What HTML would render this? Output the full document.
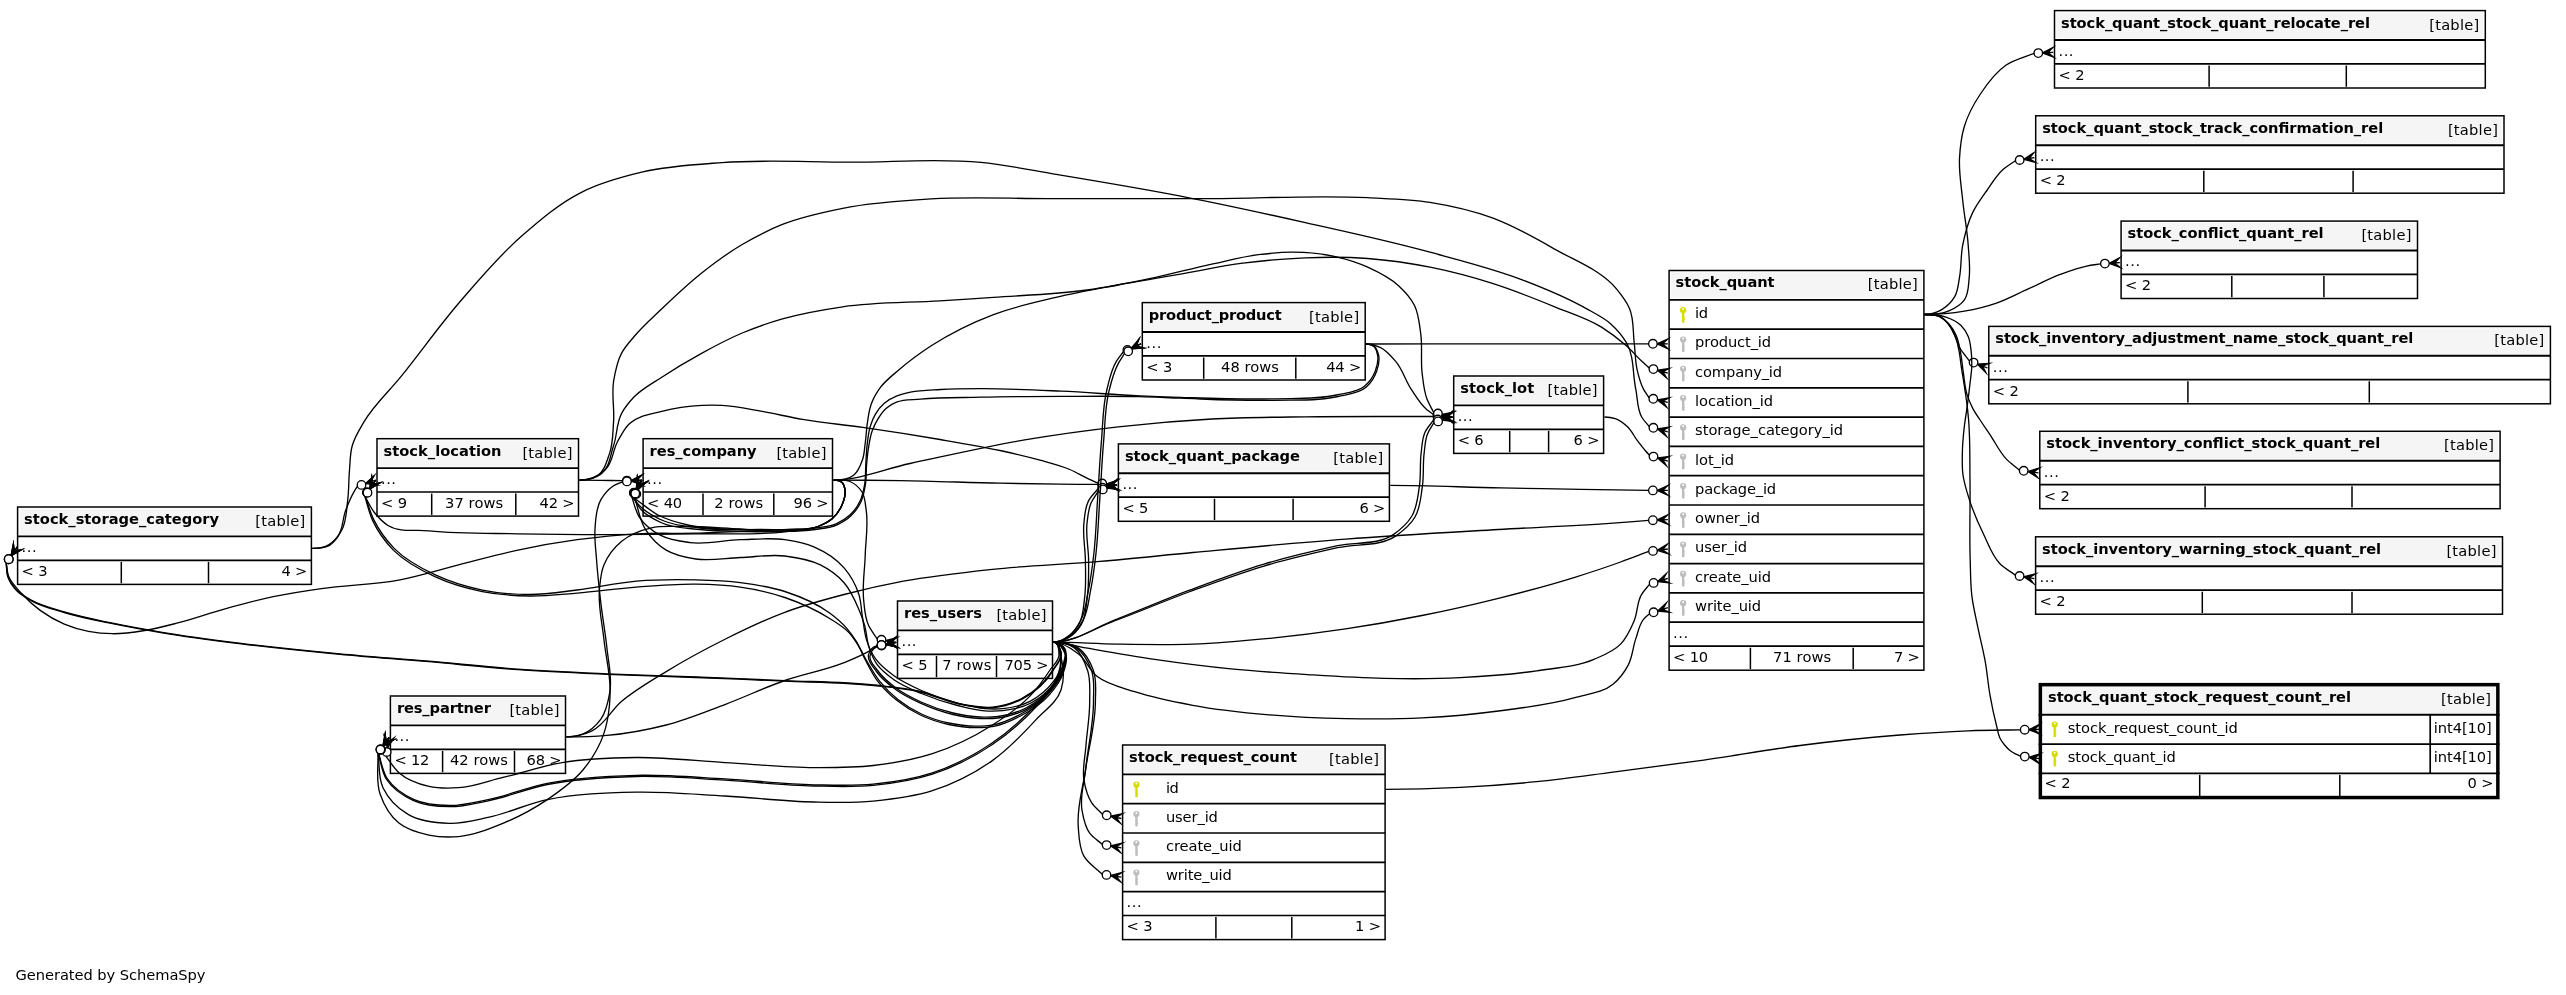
<!DOCTYPE html>
<html><head><meta charset="utf-8"><title>stock_quant_stock_request_count_rel</title>
<style>
html,body{margin:0;padding:0;background:#fff;}
svg{display:block;transform:translateZ(0);will-change:transform;font-family:"DejaVu Sans","Liberation Sans",sans-serif;font-size:14.67px;fill:#000;}
</style></head><body>
<svg width="2566" height="995" viewBox="0 0 2566 995">
<rect width="2566" height="995" fill="#fff"/>
<g>
<g>
<rect x="17.6" y="507.0" width="293.8" height="77.4" fill="#fff"/>
<rect x="19.5" y="508.9" width="290.0" height="25.8" fill="#f5f5f5"/>
<rect x="17.6" y="507.0" width="293.8" height="77.4" fill="none" stroke="#000" stroke-width="1.5"/>
<line x1="17.6" x2="311.4" y1="536.4" y2="536.4" stroke="#000" stroke-width="1.9"/>
<line x1="17.6" x2="311.4" y1="560.3" y2="560.3" stroke="#000" stroke-width="1.7"/>
<line x1="121.3" x2="121.3" y1="561.9" y2="583.2" stroke="#000" stroke-width="1.5"/>
<line x1="208.5" x2="208.5" y1="561.9" y2="583.2" stroke="#000" stroke-width="1.5"/>
<text x="24.1" y="523.9" font-weight="bold" textLength="195" lengthAdjust="spacing">stock_storage_category</text>
<text x="305.3" y="525.9" text-anchor="end" textLength="50" lengthAdjust="spacing">[table]</text>
<text x="21.6" y="552.2" textLength="15" lengthAdjust="spacing">...</text>
<text x="21.6" y="576.2" textLength="26" lengthAdjust="spacing">&lt; 3</text>
<text x="307.4" y="576.2" text-anchor="end" textLength="26" lengthAdjust="spacing">4 &gt;</text>
</g>
<g>
<rect x="377.0" y="438.7" width="201.5" height="77.4" fill="#fff"/>
<rect x="378.9" y="440.6" width="197.7" height="25.8" fill="#f5f5f5"/>
<rect x="377.0" y="438.7" width="201.5" height="77.4" fill="none" stroke="#000" stroke-width="1.5"/>
<line x1="377.0" x2="578.5" y1="468.1" y2="468.1" stroke="#000" stroke-width="1.9"/>
<line x1="377.0" x2="578.5" y1="492.0" y2="492.0" stroke="#000" stroke-width="1.7"/>
<line x1="431.7" x2="431.7" y1="493.6" y2="514.9" stroke="#000" stroke-width="1.5"/>
<line x1="515.8" x2="515.8" y1="493.6" y2="514.9" stroke="#000" stroke-width="1.5"/>
<text x="383.5" y="455.6" font-weight="bold" textLength="118" lengthAdjust="spacing">stock_location</text>
<text x="572.4" y="457.6" text-anchor="end" textLength="50" lengthAdjust="spacing">[table]</text>
<text x="381.0" y="483.9" textLength="15" lengthAdjust="spacing">...</text>
<text x="381.0" y="507.9" textLength="26" lengthAdjust="spacing">&lt; 9</text>
<text x="474.1" y="507.9" text-anchor="middle" textLength="58" lengthAdjust="spacing">37 rows</text>
<text x="574.5" y="507.9" text-anchor="end" textLength="35" lengthAdjust="spacing">42 &gt;</text>
</g>
<g>
<rect x="643.1" y="438.7" width="189.4" height="77.4" fill="#fff"/>
<rect x="645.0" y="440.6" width="185.6" height="25.8" fill="#f5f5f5"/>
<rect x="643.1" y="438.7" width="189.4" height="77.4" fill="none" stroke="#000" stroke-width="1.5"/>
<line x1="643.1" x2="832.5" y1="468.1" y2="468.1" stroke="#000" stroke-width="1.9"/>
<line x1="643.1" x2="832.5" y1="492.0" y2="492.0" stroke="#000" stroke-width="1.7"/>
<line x1="703.0" x2="703.0" y1="493.6" y2="514.9" stroke="#000" stroke-width="1.5"/>
<line x1="773.8" x2="773.8" y1="493.6" y2="514.9" stroke="#000" stroke-width="1.5"/>
<text x="649.6" y="455.6" font-weight="bold" textLength="107" lengthAdjust="spacing">res_company</text>
<text x="826.4" y="457.6" text-anchor="end" textLength="50" lengthAdjust="spacing">[table]</text>
<text x="647.1" y="483.9" textLength="15" lengthAdjust="spacing">...</text>
<text x="647.1" y="507.9" textLength="35" lengthAdjust="spacing">&lt; 40</text>
<text x="738.7" y="507.9" text-anchor="middle" textLength="49" lengthAdjust="spacing">2 rows</text>
<text x="828.5" y="507.9" text-anchor="end" textLength="35" lengthAdjust="spacing">96 &gt;</text>
</g>
<g>
<rect x="390.4" y="696.0" width="175.1" height="77.4" fill="#fff"/>
<rect x="392.3" y="697.9" width="171.3" height="25.8" fill="#f5f5f5"/>
<rect x="390.4" y="696.0" width="175.1" height="77.4" fill="none" stroke="#000" stroke-width="1.5"/>
<line x1="390.4" x2="565.5" y1="725.4" y2="725.4" stroke="#000" stroke-width="1.9"/>
<line x1="390.4" x2="565.5" y1="749.3" y2="749.3" stroke="#000" stroke-width="1.7"/>
<line x1="442.6" x2="442.6" y1="750.9" y2="772.2" stroke="#000" stroke-width="1.5"/>
<line x1="514.5" x2="514.5" y1="750.9" y2="772.2" stroke="#000" stroke-width="1.5"/>
<text x="396.9" y="712.9" font-weight="bold" textLength="94" lengthAdjust="spacing">res_partner</text>
<text x="559.4" y="714.9" text-anchor="end" textLength="50" lengthAdjust="spacing">[table]</text>
<text x="394.4" y="741.2" textLength="15" lengthAdjust="spacing">...</text>
<text x="394.4" y="765.2" textLength="35" lengthAdjust="spacing">&lt; 12</text>
<text x="478.9" y="765.2" text-anchor="middle" textLength="58" lengthAdjust="spacing">42 rows</text>
<text x="561.5" y="765.2" text-anchor="end" textLength="35" lengthAdjust="spacing">68 &gt;</text>
</g>
<g>
<rect x="897.5" y="601.0" width="155.0" height="77.4" fill="#fff"/>
<rect x="899.4" y="602.9" width="151.2" height="25.8" fill="#f5f5f5"/>
<rect x="897.5" y="601.0" width="155.0" height="77.4" fill="none" stroke="#000" stroke-width="1.5"/>
<line x1="897.5" x2="1052.5" y1="630.4" y2="630.4" stroke="#000" stroke-width="1.9"/>
<line x1="897.5" x2="1052.5" y1="654.3" y2="654.3" stroke="#000" stroke-width="1.7"/>
<line x1="936.5" x2="936.5" y1="655.9" y2="677.2" stroke="#000" stroke-width="1.5"/>
<line x1="996.5" x2="996.5" y1="655.9" y2="677.2" stroke="#000" stroke-width="1.5"/>
<text x="904.0" y="617.9" font-weight="bold" textLength="78" lengthAdjust="spacing">res_users</text>
<text x="1046.4" y="619.9" text-anchor="end" textLength="50" lengthAdjust="spacing">[table]</text>
<text x="901.5" y="646.2" textLength="15" lengthAdjust="spacing">...</text>
<text x="901.5" y="670.2" textLength="26" lengthAdjust="spacing">&lt; 5</text>
<text x="966.8" y="670.2" text-anchor="middle" textLength="49" lengthAdjust="spacing">7 rows</text>
<text x="1048.5" y="670.2" text-anchor="end" textLength="44" lengthAdjust="spacing">705 &gt;</text>
</g>
<g>
<rect x="1142.3" y="302.6" width="222.9" height="77.4" fill="#fff"/>
<rect x="1144.2" y="304.5" width="219.1" height="25.8" fill="#f5f5f5"/>
<rect x="1142.3" y="302.6" width="222.9" height="77.4" fill="none" stroke="#000" stroke-width="1.5"/>
<line x1="1142.3" x2="1365.2" y1="332.0" y2="332.0" stroke="#000" stroke-width="1.9"/>
<line x1="1142.3" x2="1365.2" y1="355.9" y2="355.9" stroke="#000" stroke-width="1.7"/>
<line x1="1203.7" x2="1203.7" y1="357.5" y2="378.8" stroke="#000" stroke-width="1.5"/>
<line x1="1295.8" x2="1295.8" y1="357.5" y2="378.8" stroke="#000" stroke-width="1.5"/>
<text x="1148.8" y="319.5" font-weight="bold" textLength="133" lengthAdjust="spacing">product_product</text>
<text x="1359.1" y="321.5" text-anchor="end" textLength="50" lengthAdjust="spacing">[table]</text>
<text x="1146.3" y="347.8" textLength="15" lengthAdjust="spacing">...</text>
<text x="1146.3" y="371.8" textLength="26" lengthAdjust="spacing">&lt; 3</text>
<text x="1250.0" y="371.8" text-anchor="middle" textLength="58" lengthAdjust="spacing">48 rows</text>
<text x="1361.2" y="371.8" text-anchor="end" textLength="35" lengthAdjust="spacing">44 &gt;</text>
</g>
<g>
<rect x="1118.4" y="443.9" width="271.0" height="77.4" fill="#fff"/>
<rect x="1120.3" y="445.8" width="267.2" height="25.8" fill="#f5f5f5"/>
<rect x="1118.4" y="443.9" width="271.0" height="77.4" fill="none" stroke="#000" stroke-width="1.5"/>
<line x1="1118.4" x2="1389.4" y1="473.3" y2="473.3" stroke="#000" stroke-width="1.9"/>
<line x1="1118.4" x2="1389.4" y1="497.2" y2="497.2" stroke="#000" stroke-width="1.7"/>
<line x1="1214.5" x2="1214.5" y1="498.8" y2="520.1" stroke="#000" stroke-width="1.5"/>
<line x1="1293.1" x2="1293.1" y1="498.8" y2="520.1" stroke="#000" stroke-width="1.5"/>
<text x="1124.9" y="460.8" font-weight="bold" textLength="175" lengthAdjust="spacing">stock_quant_package</text>
<text x="1383.3" y="462.8" text-anchor="end" textLength="50" lengthAdjust="spacing">[table]</text>
<text x="1122.4" y="489.1" textLength="15" lengthAdjust="spacing">...</text>
<text x="1122.4" y="513.1" textLength="26" lengthAdjust="spacing">&lt; 5</text>
<text x="1385.4" y="513.1" text-anchor="end" textLength="26" lengthAdjust="spacing">6 &gt;</text>
</g>
<g>
<rect x="1453.7" y="376.0" width="149.9" height="77.4" fill="#fff"/>
<rect x="1455.6" y="377.9" width="146.1" height="25.8" fill="#f5f5f5"/>
<rect x="1453.7" y="376.0" width="149.9" height="77.4" fill="none" stroke="#000" stroke-width="1.5"/>
<line x1="1453.7" x2="1603.6" y1="405.4" y2="405.4" stroke="#000" stroke-width="1.9"/>
<line x1="1453.7" x2="1603.6" y1="429.3" y2="429.3" stroke="#000" stroke-width="1.7"/>
<line x1="1509.7" x2="1509.7" y1="430.9" y2="452.2" stroke="#000" stroke-width="1.5"/>
<line x1="1548.6" x2="1548.6" y1="430.9" y2="452.2" stroke="#000" stroke-width="1.5"/>
<text x="1460.2" y="392.9" font-weight="bold" textLength="74" lengthAdjust="spacing">stock_lot</text>
<text x="1597.5" y="394.9" text-anchor="end" textLength="50" lengthAdjust="spacing">[table]</text>
<text x="1457.7" y="421.2" textLength="15" lengthAdjust="spacing">...</text>
<text x="1457.7" y="445.2" textLength="26" lengthAdjust="spacing">&lt; 6</text>
<text x="1599.6" y="445.2" text-anchor="end" textLength="26" lengthAdjust="spacing">6 &gt;</text>
</g>
<g>
<rect x="1122.6" y="745.0" width="262.5" height="194.6" fill="#fff"/>
<rect x="1124.5" y="746.9" width="258.7" height="25.8" fill="#f5f5f5"/>
<rect x="1122.6" y="745.0" width="262.5" height="194.6" fill="none" stroke="#000" stroke-width="1.5"/>
<line x1="1122.6" x2="1385.1" y1="774.4" y2="774.4" stroke="#000" stroke-width="1.9"/>
<line x1="1122.6" x2="1385.1" y1="803.7" y2="803.7" stroke="#000" stroke-width="1.7"/>
<line x1="1122.6" x2="1385.1" y1="833.0" y2="833.0" stroke="#000" stroke-width="1.7"/>
<line x1="1122.6" x2="1385.1" y1="862.3" y2="862.3" stroke="#000" stroke-width="1.7"/>
<line x1="1122.6" x2="1385.1" y1="891.6" y2="891.6" stroke="#000" stroke-width="1.7"/>
<line x1="1122.6" x2="1385.1" y1="915.5" y2="915.5" stroke="#000" stroke-width="1.7"/>
<line x1="1215.9" x2="1215.9" y1="917.1" y2="938.4" stroke="#000" stroke-width="1.5"/>
<line x1="1291.8" x2="1291.8" y1="917.1" y2="938.4" stroke="#000" stroke-width="1.5"/>
<text x="1129.1" y="761.9" font-weight="bold" textLength="168" lengthAdjust="spacing">stock_request_count</text>
<text x="1379.0" y="763.9" text-anchor="end" textLength="50" lengthAdjust="spacing">[table]</text>
<g fill="#d6dc00"><circle cx="1136.4" cy="784.7" r="3.1"/><rect x="1135.25" y="784.7" width="2.3" height="12.6" rx="0.8"/><rect x="1136.40" y="791.0" width="1.6" height="1.2"/><rect x="1136.40" y="793.3" width="1.7" height="1.2"/><rect x="1136.40" y="795.5" width="1.5" height="1.2"/><circle cx="1136.4" cy="783.6" r="1" fill="#fff"/></g>
<text x="1165.9" y="792.5" textLength="13" lengthAdjust="spacing">id</text>
<g fill="#bdbdbd"><circle cx="1136.4" cy="814.0" r="3.1"/><rect x="1135.25" y="814.0" width="2.3" height="12.6" rx="0.8"/><rect x="1136.40" y="820.3" width="1.6" height="1.2"/><rect x="1136.40" y="822.6" width="1.7" height="1.2"/><rect x="1136.40" y="824.8" width="1.5" height="1.2"/><circle cx="1136.4" cy="812.9" r="1" fill="#fff"/></g>
<text x="1165.9" y="821.8" textLength="52" lengthAdjust="spacing">user_id</text>
<g fill="#bdbdbd"><circle cx="1136.4" cy="843.3" r="3.1"/><rect x="1135.25" y="843.3" width="2.3" height="12.6" rx="0.8"/><rect x="1136.40" y="849.6" width="1.6" height="1.2"/><rect x="1136.40" y="851.9" width="1.7" height="1.2"/><rect x="1136.40" y="854.1" width="1.5" height="1.2"/><circle cx="1136.4" cy="842.2" r="1" fill="#fff"/></g>
<text x="1165.9" y="851.1" textLength="76" lengthAdjust="spacing">create_uid</text>
<g fill="#bdbdbd"><circle cx="1136.4" cy="872.6" r="3.1"/><rect x="1135.25" y="872.6" width="2.3" height="12.6" rx="0.8"/><rect x="1136.40" y="878.9" width="1.6" height="1.2"/><rect x="1136.40" y="881.2" width="1.7" height="1.2"/><rect x="1136.40" y="883.4" width="1.5" height="1.2"/><circle cx="1136.4" cy="871.5" r="1" fill="#fff"/></g>
<text x="1165.9" y="880.4" textLength="66" lengthAdjust="spacing">write_uid</text>
<text x="1126.6" y="907.4" textLength="15" lengthAdjust="spacing">...</text>
<text x="1126.6" y="931.4" textLength="26" lengthAdjust="spacing">&lt; 3</text>
<text x="1381.1" y="931.4" text-anchor="end" textLength="26" lengthAdjust="spacing">1 &gt;</text>
</g>
<g>
<rect x="1669.1" y="270.5" width="254.8" height="399.7" fill="#fff"/>
<rect x="1671.0" y="272.4" width="251.0" height="25.8" fill="#f5f5f5"/>
<rect x="1669.1" y="270.5" width="254.8" height="399.7" fill="none" stroke="#000" stroke-width="1.5"/>
<line x1="1669.1" x2="1923.9" y1="299.9" y2="299.9" stroke="#000" stroke-width="1.9"/>
<line x1="1669.1" x2="1923.9" y1="329.2" y2="329.2" stroke="#000" stroke-width="1.7"/>
<line x1="1669.1" x2="1923.9" y1="358.5" y2="358.5" stroke="#000" stroke-width="1.7"/>
<line x1="1669.1" x2="1923.9" y1="387.8" y2="387.8" stroke="#000" stroke-width="1.7"/>
<line x1="1669.1" x2="1923.9" y1="417.1" y2="417.1" stroke="#000" stroke-width="1.7"/>
<line x1="1669.1" x2="1923.9" y1="446.4" y2="446.4" stroke="#000" stroke-width="1.7"/>
<line x1="1669.1" x2="1923.9" y1="475.7" y2="475.7" stroke="#000" stroke-width="1.7"/>
<line x1="1669.1" x2="1923.9" y1="505.0" y2="505.0" stroke="#000" stroke-width="1.7"/>
<line x1="1669.1" x2="1923.9" y1="534.3" y2="534.3" stroke="#000" stroke-width="1.7"/>
<line x1="1669.1" x2="1923.9" y1="563.6" y2="563.6" stroke="#000" stroke-width="1.7"/>
<line x1="1669.1" x2="1923.9" y1="592.9" y2="592.9" stroke="#000" stroke-width="1.7"/>
<line x1="1669.1" x2="1923.9" y1="622.2" y2="622.2" stroke="#000" stroke-width="1.7"/>
<line x1="1669.1" x2="1923.9" y1="646.1" y2="646.1" stroke="#000" stroke-width="1.7"/>
<line x1="1750.4" x2="1750.4" y1="647.7" y2="669.0" stroke="#000" stroke-width="1.5"/>
<line x1="1853.2" x2="1853.2" y1="647.7" y2="669.0" stroke="#000" stroke-width="1.5"/>
<text x="1675.6" y="287.4" font-weight="bold" textLength="99" lengthAdjust="spacing">stock_quant</text>
<text x="1917.8" y="289.4" text-anchor="end" textLength="50" lengthAdjust="spacing">[table]</text>
<g fill="#d6dc00"><circle cx="1683.1" cy="310.2" r="3.1"/><rect x="1681.95" y="310.2" width="2.3" height="12.6" rx="0.8"/><rect x="1683.10" y="316.5" width="1.6" height="1.2"/><rect x="1683.10" y="318.8" width="1.7" height="1.2"/><rect x="1683.10" y="321.0" width="1.5" height="1.2"/><circle cx="1683.1" cy="309.1" r="1" fill="#fff"/></g>
<text x="1695.1" y="318.0" textLength="13" lengthAdjust="spacing">id</text>
<g fill="#bdbdbd"><circle cx="1683.1" cy="339.5" r="3.1"/><rect x="1681.95" y="339.5" width="2.3" height="12.6" rx="0.8"/><rect x="1683.10" y="345.8" width="1.6" height="1.2"/><rect x="1683.10" y="348.1" width="1.7" height="1.2"/><rect x="1683.10" y="350.3" width="1.5" height="1.2"/><circle cx="1683.1" cy="338.4" r="1" fill="#fff"/></g>
<text x="1695.1" y="347.3" textLength="76" lengthAdjust="spacing">product_id</text>
<g fill="#bdbdbd"><circle cx="1683.1" cy="368.8" r="3.1"/><rect x="1681.95" y="368.8" width="2.3" height="12.6" rx="0.8"/><rect x="1683.10" y="375.1" width="1.6" height="1.2"/><rect x="1683.10" y="377.4" width="1.7" height="1.2"/><rect x="1683.10" y="379.6" width="1.5" height="1.2"/><circle cx="1683.1" cy="367.7" r="1" fill="#fff"/></g>
<text x="1695.1" y="376.6" textLength="87" lengthAdjust="spacing">company_id</text>
<g fill="#bdbdbd"><circle cx="1683.1" cy="398.1" r="3.1"/><rect x="1681.95" y="398.1" width="2.3" height="12.6" rx="0.8"/><rect x="1683.10" y="404.4" width="1.6" height="1.2"/><rect x="1683.10" y="406.7" width="1.7" height="1.2"/><rect x="1683.10" y="408.9" width="1.5" height="1.2"/><circle cx="1683.1" cy="397.0" r="1" fill="#fff"/></g>
<text x="1695.1" y="405.9" textLength="78" lengthAdjust="spacing">location_id</text>
<g fill="#bdbdbd"><circle cx="1683.1" cy="427.4" r="3.1"/><rect x="1681.95" y="427.4" width="2.3" height="12.6" rx="0.8"/><rect x="1683.10" y="433.7" width="1.6" height="1.2"/><rect x="1683.10" y="436.0" width="1.7" height="1.2"/><rect x="1683.10" y="438.2" width="1.5" height="1.2"/><circle cx="1683.1" cy="426.3" r="1" fill="#fff"/></g>
<text x="1695.1" y="435.2" textLength="148" lengthAdjust="spacing">storage_category_id</text>
<g fill="#bdbdbd"><circle cx="1683.1" cy="456.7" r="3.1"/><rect x="1681.95" y="456.7" width="2.3" height="12.6" rx="0.8"/><rect x="1683.10" y="463.0" width="1.6" height="1.2"/><rect x="1683.10" y="465.3" width="1.7" height="1.2"/><rect x="1683.10" y="467.5" width="1.5" height="1.2"/><circle cx="1683.1" cy="455.6" r="1" fill="#fff"/></g>
<text x="1695.1" y="464.5" textLength="39" lengthAdjust="spacing">lot_id</text>
<g fill="#bdbdbd"><circle cx="1683.1" cy="486.0" r="3.1"/><rect x="1681.95" y="486.0" width="2.3" height="12.6" rx="0.8"/><rect x="1683.10" y="492.3" width="1.6" height="1.2"/><rect x="1683.10" y="494.6" width="1.7" height="1.2"/><rect x="1683.10" y="496.8" width="1.5" height="1.2"/><circle cx="1683.1" cy="484.9" r="1" fill="#fff"/></g>
<text x="1695.1" y="493.8" textLength="81" lengthAdjust="spacing">package_id</text>
<g fill="#bdbdbd"><circle cx="1683.1" cy="515.3" r="3.1"/><rect x="1681.95" y="515.3" width="2.3" height="12.6" rx="0.8"/><rect x="1683.10" y="521.6" width="1.6" height="1.2"/><rect x="1683.10" y="523.9" width="1.7" height="1.2"/><rect x="1683.10" y="526.1" width="1.5" height="1.2"/><circle cx="1683.1" cy="514.2" r="1" fill="#fff"/></g>
<text x="1695.1" y="523.1" textLength="65" lengthAdjust="spacing">owner_id</text>
<g fill="#bdbdbd"><circle cx="1683.1" cy="544.6" r="3.1"/><rect x="1681.95" y="544.6" width="2.3" height="12.6" rx="0.8"/><rect x="1683.10" y="550.9" width="1.6" height="1.2"/><rect x="1683.10" y="553.2" width="1.7" height="1.2"/><rect x="1683.10" y="555.4" width="1.5" height="1.2"/><circle cx="1683.1" cy="543.5" r="1" fill="#fff"/></g>
<text x="1695.1" y="552.4" textLength="52" lengthAdjust="spacing">user_id</text>
<g fill="#bdbdbd"><circle cx="1683.1" cy="573.9" r="3.1"/><rect x="1681.95" y="573.9" width="2.3" height="12.6" rx="0.8"/><rect x="1683.10" y="580.2" width="1.6" height="1.2"/><rect x="1683.10" y="582.5" width="1.7" height="1.2"/><rect x="1683.10" y="584.7" width="1.5" height="1.2"/><circle cx="1683.1" cy="572.8" r="1" fill="#fff"/></g>
<text x="1695.1" y="581.7" textLength="76" lengthAdjust="spacing">create_uid</text>
<g fill="#bdbdbd"><circle cx="1683.1" cy="603.2" r="3.1"/><rect x="1681.95" y="603.2" width="2.3" height="12.6" rx="0.8"/><rect x="1683.10" y="609.5" width="1.6" height="1.2"/><rect x="1683.10" y="611.8" width="1.7" height="1.2"/><rect x="1683.10" y="614.0" width="1.5" height="1.2"/><circle cx="1683.1" cy="602.1" r="1" fill="#fff"/></g>
<text x="1695.1" y="611.0" textLength="66" lengthAdjust="spacing">write_uid</text>
<text x="1673.1" y="638.0" textLength="15" lengthAdjust="spacing">...</text>
<text x="1673.1" y="662.0" textLength="35" lengthAdjust="spacing">&lt; 10</text>
<text x="1802.1" y="662.0" text-anchor="middle" textLength="58" lengthAdjust="spacing">71 rows</text>
<text x="1919.9" y="662.0" text-anchor="end" textLength="26" lengthAdjust="spacing">7 &gt;</text>
</g>
<g>
<rect x="2054.5" y="10.6" width="430.8" height="77.4" fill="#fff"/>
<rect x="2056.4" y="12.5" width="427.0" height="25.8" fill="#f5f5f5"/>
<rect x="2054.5" y="10.6" width="430.8" height="77.4" fill="none" stroke="#000" stroke-width="1.5"/>
<line x1="2054.5" x2="2485.3" y1="40.0" y2="40.0" stroke="#000" stroke-width="1.9"/>
<line x1="2054.5" x2="2485.3" y1="63.9" y2="63.9" stroke="#000" stroke-width="1.7"/>
<line x1="2209.1" x2="2209.1" y1="65.5" y2="86.8" stroke="#000" stroke-width="1.5"/>
<line x1="2346.3" x2="2346.3" y1="65.5" y2="86.8" stroke="#000" stroke-width="1.5"/>
<text x="2061.0" y="27.5" font-weight="bold" textLength="309" lengthAdjust="spacing">stock_quant_stock_quant_relocate_rel</text>
<text x="2479.2" y="29.5" text-anchor="end" textLength="50" lengthAdjust="spacing">[table]</text>
<text x="2058.5" y="55.8" textLength="15" lengthAdjust="spacing">...</text>
<text x="2058.5" y="79.8" textLength="26" lengthAdjust="spacing">&lt; 2</text>
</g>
<g>
<rect x="2035.7" y="115.8" width="468.3" height="77.4" fill="#fff"/>
<rect x="2037.6" y="117.7" width="464.5" height="25.8" fill="#f5f5f5"/>
<rect x="2035.7" y="115.8" width="468.3" height="77.4" fill="none" stroke="#000" stroke-width="1.5"/>
<line x1="2035.7" x2="2504.0" y1="145.2" y2="145.2" stroke="#000" stroke-width="1.9"/>
<line x1="2035.7" x2="2504.0" y1="169.1" y2="169.1" stroke="#000" stroke-width="1.7"/>
<line x1="2203.8" x2="2203.8" y1="170.7" y2="192.0" stroke="#000" stroke-width="1.5"/>
<line x1="2353.1" x2="2353.1" y1="170.7" y2="192.0" stroke="#000" stroke-width="1.5"/>
<text x="2042.2" y="132.7" font-weight="bold" textLength="341" lengthAdjust="spacing">stock_quant_stock_track_confirmation_rel</text>
<text x="2497.9" y="134.7" text-anchor="end" textLength="50" lengthAdjust="spacing">[table]</text>
<text x="2039.7" y="161.0" textLength="15" lengthAdjust="spacing">...</text>
<text x="2039.7" y="185.0" textLength="26" lengthAdjust="spacing">&lt; 2</text>
</g>
<g>
<rect x="2121.1" y="221.1" width="296.4" height="77.4" fill="#fff"/>
<rect x="2123.0" y="223.0" width="292.6" height="25.8" fill="#f5f5f5"/>
<rect x="2121.1" y="221.1" width="296.4" height="77.4" fill="none" stroke="#000" stroke-width="1.5"/>
<line x1="2121.1" x2="2417.5" y1="250.5" y2="250.5" stroke="#000" stroke-width="1.9"/>
<line x1="2121.1" x2="2417.5" y1="274.4" y2="274.4" stroke="#000" stroke-width="1.7"/>
<line x1="2231.8" x2="2231.8" y1="276.0" y2="297.3" stroke="#000" stroke-width="1.5"/>
<line x1="2323.9" x2="2323.9" y1="276.0" y2="297.3" stroke="#000" stroke-width="1.5"/>
<text x="2127.6" y="238.0" font-weight="bold" textLength="196" lengthAdjust="spacing">stock_conflict_quant_rel</text>
<text x="2411.4" y="240.0" text-anchor="end" textLength="50" lengthAdjust="spacing">[table]</text>
<text x="2125.1" y="266.3" textLength="15" lengthAdjust="spacing">...</text>
<text x="2125.1" y="290.3" textLength="26" lengthAdjust="spacing">&lt; 2</text>
</g>
<g>
<rect x="1988.8" y="326.4" width="561.6" height="77.4" fill="#fff"/>
<rect x="1990.7" y="328.3" width="557.8" height="25.8" fill="#f5f5f5"/>
<rect x="1988.8" y="326.4" width="561.6" height="77.4" fill="none" stroke="#000" stroke-width="1.5"/>
<line x1="1988.8" x2="2550.4" y1="355.8" y2="355.8" stroke="#000" stroke-width="1.9"/>
<line x1="1988.8" x2="2550.4" y1="379.7" y2="379.7" stroke="#000" stroke-width="1.7"/>
<line x1="2187.9" x2="2187.9" y1="381.3" y2="402.6" stroke="#000" stroke-width="1.5"/>
<line x1="2369.3" x2="2369.3" y1="381.3" y2="402.6" stroke="#000" stroke-width="1.5"/>
<text x="1995.3" y="343.3" font-weight="bold" textLength="418" lengthAdjust="spacing">stock_inventory_adjustment_name_stock_quant_rel</text>
<text x="2544.3" y="345.3" text-anchor="end" textLength="50" lengthAdjust="spacing">[table]</text>
<text x="1992.8" y="371.6" textLength="15" lengthAdjust="spacing">...</text>
<text x="1992.8" y="395.6" textLength="26" lengthAdjust="spacing">&lt; 2</text>
</g>
<g>
<rect x="2039.8" y="431.3" width="460.3" height="77.4" fill="#fff"/>
<rect x="2041.7" y="433.2" width="456.5" height="25.8" fill="#f5f5f5"/>
<rect x="2039.8" y="431.3" width="460.3" height="77.4" fill="none" stroke="#000" stroke-width="1.5"/>
<line x1="2039.8" x2="2500.1" y1="460.7" y2="460.7" stroke="#000" stroke-width="1.9"/>
<line x1="2039.8" x2="2500.1" y1="484.6" y2="484.6" stroke="#000" stroke-width="1.7"/>
<line x1="2205.1" x2="2205.1" y1="486.2" y2="507.5" stroke="#000" stroke-width="1.5"/>
<line x1="2352.0" x2="2352.0" y1="486.2" y2="507.5" stroke="#000" stroke-width="1.5"/>
<text x="2046.3" y="448.2" font-weight="bold" textLength="334" lengthAdjust="spacing">stock_inventory_conflict_stock_quant_rel</text>
<text x="2494.0" y="450.2" text-anchor="end" textLength="50" lengthAdjust="spacing">[table]</text>
<text x="2043.8" y="476.5" textLength="15" lengthAdjust="spacing">...</text>
<text x="2043.8" y="500.5" textLength="26" lengthAdjust="spacing">&lt; 2</text>
</g>
<g>
<rect x="2035.6" y="536.8" width="466.9" height="77.4" fill="#fff"/>
<rect x="2037.5" y="538.7" width="463.1" height="25.8" fill="#f5f5f5"/>
<rect x="2035.6" y="536.8" width="466.9" height="77.4" fill="none" stroke="#000" stroke-width="1.5"/>
<line x1="2035.6" x2="2502.5" y1="566.2" y2="566.2" stroke="#000" stroke-width="1.9"/>
<line x1="2035.6" x2="2502.5" y1="590.1" y2="590.1" stroke="#000" stroke-width="1.7"/>
<line x1="2202.3" x2="2202.3" y1="591.7" y2="613.0" stroke="#000" stroke-width="1.5"/>
<line x1="2352.0" x2="2352.0" y1="591.7" y2="613.0" stroke="#000" stroke-width="1.5"/>
<text x="2042.1" y="553.7" font-weight="bold" textLength="339" lengthAdjust="spacing">stock_inventory_warning_stock_quant_rel</text>
<text x="2496.4" y="555.7" text-anchor="end" textLength="50" lengthAdjust="spacing">[table]</text>
<text x="2039.6" y="582.0" textLength="15" lengthAdjust="spacing">...</text>
<text x="2039.6" y="606.0" textLength="26" lengthAdjust="spacing">&lt; 2</text>
</g>
<g>
<rect x="2038.6" y="682.9" width="461.0" height="116.4" fill="#fff"/>
<rect x="2040.5" y="684.8" width="457.2" height="28.3" fill="#f5f5f5"/>
<rect x="2040.35" y="684.65" width="457.5" height="112.9" fill="none" stroke="#000" stroke-width="3.5"/>
<line x1="2038.6" x2="2499.6" y1="714.8" y2="714.8" stroke="#000" stroke-width="1.9"/>
<line x1="2038.6" x2="2499.6" y1="744.1" y2="744.1" stroke="#000" stroke-width="1.7"/>
<line x1="2038.6" x2="2499.6" y1="773.4" y2="773.4" stroke="#000" stroke-width="1.7"/>
<line x1="2199.7" x2="2199.7" y1="775.0" y2="798.1" stroke="#000" stroke-width="1.5"/>
<line x1="2339.8" x2="2339.8" y1="775.0" y2="798.1" stroke="#000" stroke-width="1.5"/>
<line x1="2430.2" x2="2430.2" y1="714.8" y2="773.4" stroke="#000" stroke-width="1.7"/>
<text x="2048.0" y="702.0" font-weight="bold" textLength="303" lengthAdjust="spacing">stock_quant_stock_request_count_rel</text>
<text x="2491.0" y="704.0" text-anchor="end" textLength="50" lengthAdjust="spacing">[table]</text>
<g fill="#d6dc00"><circle cx="2054.7" cy="724.6" r="3.1"/><rect x="2053.55" y="724.6" width="2.3" height="12.6" rx="0.8"/><rect x="2054.70" y="730.9" width="1.6" height="1.2"/><rect x="2054.70" y="733.2" width="1.7" height="1.2"/><rect x="2054.70" y="735.4" width="1.5" height="1.2"/><circle cx="2054.7" cy="723.5" r="1" fill="#fff"/></g>
<text x="2067.8" y="732.9" textLength="170" lengthAdjust="spacing">stock_request_count_id</text>
<text x="2433.8" y="732.9" textLength="58" lengthAdjust="spacing">int4[10]</text>
<g fill="#d6dc00"><circle cx="2054.7" cy="753.9" r="3.1"/><rect x="2053.55" y="753.9" width="2.3" height="12.6" rx="0.8"/><rect x="2054.70" y="760.2" width="1.6" height="1.2"/><rect x="2054.70" y="762.5" width="1.7" height="1.2"/><rect x="2054.70" y="764.7" width="1.5" height="1.2"/><circle cx="2054.7" cy="752.8" r="1" fill="#fff"/></g>
<text x="2067.8" y="762.2" textLength="108" lengthAdjust="spacing">stock_quant_id</text>
<text x="2433.8" y="762.2" textLength="58" lengthAdjust="spacing">int4[10]</text>
<text x="2044.6" y="788.2" textLength="26" lengthAdjust="spacing">&lt; 2</text>
<text x="2493.6" y="788.2" text-anchor="end" textLength="26" lengthAdjust="spacing">0 &gt;</text>
</g>
</g>
<g>
<path d="M1924.6,314.5 C1932.6,314.5 1940.9,314.3 1948.3,311.2 C1954.3,308.7 1960.6,305.3 1964.4,299.9 C1968.8,293.6 1968.4,285.0 1969.2,277.4 C1970.4,266.7 1968.9,255.9 1968.2,245.2 C1967.2,230.1 1964.2,215.2 1962.7,200.2 C1961.3,186.3 1958.8,172.4 1959.5,158.4 C1960.1,147.6 1961.2,136.6 1964.4,126.2 C1967.9,114.7 1973.7,104.0 1980.4,94.0 C1987.6,83.2 1995.5,72.2 2006.2,65.0 C2014.5,59.4 2024.7,57.2 2034.0,53.3" fill="none" stroke="#000" stroke-width="1.33"/><path d="M2042.5,52.9 L2053.5,57.1 L2047.9,52.6 L2053.2,52.3 L2047.9,52.6 L2052.9,47.5 L2042.5,52.9Z" fill="#000" stroke="#000" stroke-width="1.33" stroke-linejoin="miter" stroke-miterlimit="10"/><circle cx="2038.3" cy="53.1" r="4.27" fill="#fff" stroke="#000" stroke-width="1.33"/>
<path d="M1924.6,314.5 C1930.6,314.5 1936.7,312.6 1941.8,309.6 C1947.1,306.5 1951.6,302.0 1954.7,296.7 C1958.0,291.0 1958.3,283.9 1959.5,277.4 C1961.5,266.8 1960.6,255.8 1962.7,245.2 C1964.9,234.2 1967.6,223.2 1972.4,213.1 C1976.3,205.0 1981.7,197.8 1986.9,190.5 C1992.0,183.3 1996.4,175.5 2003.0,169.6 C2006.8,166.2 2011.3,163.7 2015.4,160.7" fill="none" stroke="#000" stroke-width="1.33"/><path d="M2023.9,159.3 L2035.2,162.3 L2029.1,158.5 L2034.4,157.6 L2029.1,158.5 L2033.6,152.9 L2023.9,159.3Z" fill="#000" stroke="#000" stroke-width="1.33" stroke-linejoin="miter" stroke-miterlimit="10"/><circle cx="2019.7" cy="160.0" r="4.27" fill="#fff" stroke="#000" stroke-width="1.33"/>
<path d="M1924.6,314.5 C1937.9,314.5 1951.3,313.5 1964.4,311.2 C1975.3,309.3 1986.1,306.7 1996.5,303.1 C2007.6,299.3 2018.0,293.5 2028.7,288.7 C2039.4,283.9 2049.9,278.3 2060.9,274.2 C2069.3,271.1 2077.8,267.9 2086.6,266.1 C2091.2,265.1 2096.0,264.6 2100.6,263.9" fill="none" stroke="#000" stroke-width="1.33"/><path d="M2109.2,263.3 L2120.1,267.4 L2114.5,263.0 L2119.8,262.6 L2114.5,263.0 L2119.5,257.8 L2109.2,263.3Z" fill="#000" stroke="#000" stroke-width="1.33" stroke-linejoin="miter" stroke-miterlimit="10"/><circle cx="2104.9" cy="263.6" r="4.27" fill="#fff" stroke="#000" stroke-width="1.33"/>
<path d="M1924.6,314.5 C1929.9,314.5 1935.6,314.4 1940.3,316.9 C1944.3,319.0 1947.3,322.8 1950.0,326.5 C1952.6,330.2 1954.1,334.5 1956.0,338.6 C1957.7,342.2 1958.7,346.1 1960.8,349.5 C1962.2,351.8 1964.0,353.9 1965.7,356.1 C1967.0,357.8 1968.3,359.4 1969.6,361.1" fill="none" stroke="#000" stroke-width="1.33"/><path d="M1977.5,364.2 L1985.8,372.5 L1982.5,366.1 L1987.5,368.0 L1982.5,366.1 L1989.2,363.5 L1977.5,364.2Z" fill="#000" stroke="#000" stroke-width="1.33" stroke-linejoin="miter" stroke-miterlimit="10"/><circle cx="1973.6" cy="362.6" r="4.27" fill="#fff" stroke="#000" stroke-width="1.33"/>
<path d="M1924.6,314.5 C1930.1,314.5 1936.1,314.4 1941.0,317.0 C1944.1,318.7 1946.7,321.3 1949.0,324.0 C1951.9,327.3 1954.2,331.1 1956.0,335.0 C1958.3,339.9 1959.1,345.4 1960.2,350.7 C1961.7,357.8 1962.2,365.2 1963.3,372.4 C1964.4,379.6 1964.8,387.1 1966.9,394.1 C1968.4,399.1 1970.5,404.0 1972.9,408.6 C1975.0,412.6 1977.6,416.2 1980.1,420.0 C1983.3,425.0 1986.8,429.9 1990.1,434.8 C1995.5,442.8 1999.5,451.9 2006.2,458.9 C2010.2,463.1 2015.1,466.4 2019.5,470.2" fill="none" stroke="#000" stroke-width="1.33"/><path d="M2027.9,471.4 L2037.8,477.7 L2033.2,472.1 L2038.5,472.9 L2033.2,472.1 L2039.2,468.1 L2027.9,471.4Z" fill="#000" stroke="#000" stroke-width="1.33" stroke-linejoin="miter" stroke-miterlimit="10"/><circle cx="2023.7" cy="470.8" r="4.27" fill="#fff" stroke="#000" stroke-width="1.33"/>
<path d="M1924.6,314.5 C1931.5,314.5 1938.6,314.7 1945.2,316.9 C1950.8,318.8 1956.6,321.2 1960.8,325.3 C1963.9,328.4 1966.4,332.2 1968.1,336.2 C1970.1,340.7 1970.5,345.8 1971.1,350.7 C1971.8,356.3 1971.9,362.0 1971.7,367.6 C1971.5,373.2 1970.5,378.8 1969.9,384.4 C1969.0,392.5 1968.0,400.5 1966.9,408.6 C1966.1,414.1 1965.2,419.5 1964.5,425.0 C1963.3,435.0 1962.4,445.0 1962.3,455.0 C1962.2,461.7 1962.1,468.4 1963.0,475.0 C1964.1,483.2 1966.7,491.2 1969.2,499.1 C1973.0,511.3 1978.1,523.0 1983.7,534.5 C1988.5,544.4 1992.0,555.6 1999.7,563.5 C2004.3,568.2 2010.2,571.3 2015.4,575.2" fill="none" stroke="#000" stroke-width="1.33"/><path d="M2023.8,576.8 L2033.4,583.4 L2029.1,577.7 L2034.3,578.7 L2029.1,577.7 L2035.2,574.0 L2023.8,576.8Z" fill="#000" stroke="#000" stroke-width="1.33" stroke-linejoin="miter" stroke-miterlimit="10"/><circle cx="2019.6" cy="576.0" r="4.27" fill="#fff" stroke="#000" stroke-width="1.33"/>
<path d="M1924.6,314.5 C1929.5,314.5 1934.7,314.3 1939.1,316.3 C1942.4,317.8 1945.2,320.3 1947.6,322.9 C1950.8,326.3 1952.9,330.7 1954.8,335.0 C1957.0,340.0 1957.9,345.4 1959.0,350.7 C1960.1,356.3 1960.6,362.0 1961.4,367.6 C1962.4,374.0 1963.5,380.5 1964.5,386.9 C1965.3,392.5 1966.2,398.1 1966.9,403.7 C1967.6,409.1 1968.1,414.6 1968.6,420.0 C1970.3,439.9 1969.7,460.0 1970.0,480.0 C1970.4,506.7 1969.3,533.3 1970.2,560.0 C1970.6,572.1 1970.4,584.2 1971.9,596.2 C1973.2,606.8 1975.8,617.2 1977.9,627.6 C1980.2,638.9 1983.2,650.1 1985.2,661.4 C1987.2,672.6 1988.0,683.9 1990.0,695.1 C1991.8,705.3 1993.9,715.5 1996.5,725.5 C1997.6,729.8 1998.0,734.4 2000.0,738.3 C2001.3,740.9 2003.1,743.3 2005.0,745.5 C2006.5,747.3 2008.2,749.0 2010.0,750.4 C2011.6,751.6 2013.3,752.7 2015.0,753.6 C2016.8,754.6 2018.7,755.2 2020.6,756.0" fill="none" stroke="#000" stroke-width="1.33"/><path d="M2029.0,757.2 L2039.0,763.4 L2034.3,757.9 L2039.6,758.6 L2034.3,757.9 L2040.2,753.8 L2029.0,757.2Z" fill="#000" stroke="#000" stroke-width="1.33" stroke-linejoin="miter" stroke-miterlimit="10"/><circle cx="2024.8" cy="756.6" r="4.27" fill="#fff" stroke="#000" stroke-width="1.33"/>
<path d="M1385.7,789.3 C1410.5,789.3 1435.4,788.6 1460.2,787.4 C1485.7,786.1 1511.2,784.2 1536.6,781.7 C1562.1,779.1 1587.5,775.4 1613.0,772.1 C1642.0,768.4 1671.0,764.7 1700.0,760.6 C1733.4,755.9 1766.6,749.8 1800.0,745.5 C1833.2,741.2 1866.6,737.6 1900.0,735.0 C1922.7,733.2 1945.5,731.7 1968.3,730.8 C1985.7,730.1 2003.0,730.1 2020.4,729.8" fill="none" stroke="#000" stroke-width="1.33"/><path d="M2028.9,729.6 L2039.7,734.1 L2034.3,729.4 L2039.6,729.3 L2034.3,729.4 L2039.5,724.5 L2028.9,729.6Z" fill="#000" stroke="#000" stroke-width="1.33" stroke-linejoin="miter" stroke-miterlimit="10"/><circle cx="2024.7" cy="729.7" r="4.27" fill="#fff" stroke="#000" stroke-width="1.33"/>
<path d="M1366.0,344.0 C1410.7,344.0 1455.3,343.9 1500.0,343.9 C1549.5,343.9 1599.1,343.8 1648.6,343.8" fill="none" stroke="#000" stroke-width="1.33"/><path d="M1657.1,343.8 L1667.8,348.7 L1662.5,343.8 L1667.8,343.9 L1662.5,343.8 L1667.8,339.0 L1657.1,343.8Z" fill="#000" stroke="#000" stroke-width="1.33" stroke-linejoin="miter" stroke-miterlimit="10"/><circle cx="1652.9" cy="343.8" r="4.27" fill="#fff" stroke="#000" stroke-width="1.33"/>
<path d="M833.6,480.1 C840.6,480.1 848.5,479.4 853.9,474.9 C858.4,471.2 860.6,465.2 862.5,459.7 C864.4,454.2 864.5,448.3 865.3,442.5 C866.2,436.2 866.3,429.7 867.3,423.4 C868.3,417.0 868.9,410.5 871.1,404.4 C873.3,398.2 876.7,392.5 880.6,387.2 C885.6,380.5 892.4,375.5 898.7,370.0 C908.9,361.2 919.9,353.2 931.2,345.8 C950.7,333.2 971.8,322.8 993.5,314.6 C1013.7,306.9 1034.9,302.4 1055.9,297.4 C1076.5,292.5 1097.4,288.9 1118.2,285.0 C1139.0,281.1 1159.8,277.7 1180.6,274.1 C1201.4,270.5 1222.0,265.9 1242.9,263.2 C1263.6,260.5 1284.4,258.6 1305.3,257.8 C1326.1,257.0 1347.0,256.9 1367.7,258.5 C1388.6,260.1 1409.4,263.1 1430.0,267.2 C1451.1,271.4 1471.9,276.9 1492.4,283.4 C1513.6,290.1 1534.2,298.4 1554.7,306.8 C1570.4,313.2 1587.1,318.1 1601.5,327.1 C1610.3,332.6 1618.6,338.9 1626.4,345.8 C1631.9,350.7 1636.6,356.4 1642.0,361.4 C1644.4,363.6 1646.9,365.7 1649.3,367.9" fill="none" stroke="#000" stroke-width="1.33"/><path d="M1657.5,370.2 L1666.5,377.8 L1662.7,371.7 L1667.8,373.1 L1662.7,371.7 L1669.1,368.5 L1657.5,370.2Z" fill="#000" stroke="#000" stroke-width="1.33" stroke-linejoin="miter" stroke-miterlimit="10"/><circle cx="1653.4" cy="369.1" r="4.27" fill="#fff" stroke="#000" stroke-width="1.33"/>
<path d="M579.3,480.1 C585.5,480.1 592.3,479.2 597.5,475.7 C604.5,471.0 606.7,461.5 609.5,453.6 C613.1,443.4 612.8,432.2 613.6,421.4 C614.5,408.0 611.5,394.4 613.6,381.2 C615.2,371.6 617.0,361.7 621.6,353.1 C624.8,347.2 629.4,342.2 633.7,337.0 C642.2,326.8 652.2,318.0 661.8,308.8 C674.8,296.3 687.9,283.9 702.0,272.7 C714.8,262.6 728.1,252.8 742.2,244.5 C755.1,236.9 768.5,229.9 782.4,224.4 C801.7,216.7 822.3,212.4 842.7,208.3 C871.8,202.5 901.6,200.7 931.2,198.9 C970.7,196.5 1010.4,198.7 1050.0,198.6 C1103.9,198.5 1157.9,198.8 1211.8,198.6 C1263.8,198.4 1315.8,195.0 1367.7,197.7 C1388.5,198.8 1409.4,199.1 1430.0,202.4 C1451.2,205.8 1472.3,210.6 1492.4,217.9 C1514.2,225.9 1534.5,237.6 1554.7,249.1 C1576.2,261.4 1601.6,270.3 1617.1,289.6 C1621.8,295.4 1626.5,301.5 1629.5,308.4 C1634.1,319.0 1632.8,331.2 1634.2,342.6 C1635.3,352.0 1635.1,361.5 1637.3,370.7 C1638.8,377.1 1640.5,383.6 1643.6,389.4 C1645.2,392.3 1647.3,395.0 1649.2,397.8" fill="none" stroke="#000" stroke-width="1.33"/><path d="M1657.4,399.9 L1666.6,407.1 L1662.6,401.2 L1667.8,402.4 L1662.6,401.2 L1669.0,397.8 L1657.4,399.9Z" fill="#000" stroke="#000" stroke-width="1.33" stroke-linejoin="miter" stroke-miterlimit="10"/><circle cx="1653.3" cy="398.8" r="4.27" fill="#fff" stroke="#000" stroke-width="1.33"/>
<path d="M312.2,548.3 C318.1,548.3 324.5,548.2 329.6,545.3 C335.2,542.1 338.7,536.0 341.7,530.3 C346.6,521.3 346.4,510.3 347.7,500.1 C349.0,490.1 348.6,480.0 349.5,470.0 C350.2,461.8 350.0,453.4 352.3,445.5 C354.8,436.9 359.7,429.1 364.3,421.4 C374.0,405.0 388.5,392.0 400.5,377.2 C420.9,352.0 439.6,325.3 460.8,300.8 C480.0,278.6 499.0,255.8 521.1,236.5 C539.9,220.1 559.1,203.5 581.4,192.3 C600.3,182.8 621.1,177.1 641.7,172.2 C668.0,166.0 695.2,164.6 722.1,162.6 C764.6,159.4 807.4,162.2 850.0,162.2 C893.7,162.2 937.6,158.0 981.0,162.4 C1006.2,164.9 1031.0,170.2 1055.9,174.3 C1097.5,181.2 1139.2,188.1 1180.6,196.1 C1222.3,204.2 1263.8,213.3 1305.3,222.6 C1347.0,232.0 1388.8,240.9 1430.0,252.2 C1461.4,260.8 1493.1,268.6 1523.5,280.3 C1544.8,288.5 1566.1,297.1 1585.9,308.4 C1594.4,313.2 1603.5,317.4 1610.8,323.9 C1616.8,329.3 1622.3,335.6 1626.4,342.6 C1634.4,356.3 1632.5,373.8 1635.8,389.4 C1637.8,398.8 1637.0,409.3 1642.0,417.5 C1644.0,420.8 1646.9,423.6 1649.3,426.6" fill="none" stroke="#000" stroke-width="1.33"/><path d="M1657.5,428.9 L1666.5,436.4 L1662.7,430.3 L1667.8,431.8 L1662.7,430.3 L1669.1,427.1 L1657.5,428.9Z" fill="#000" stroke="#000" stroke-width="1.33" stroke-linejoin="miter" stroke-miterlimit="10"/><circle cx="1653.4" cy="427.8" r="4.27" fill="#fff" stroke="#000" stroke-width="1.33"/>
<path d="M1604.4,417.0 C1608.1,417.0 1611.8,417.4 1615.3,418.6 C1619.8,420.2 1623.8,423.3 1627.3,426.6 C1631.5,430.5 1633.9,436.1 1637.4,440.7 C1640.0,444.1 1642.6,447.5 1645.4,450.8 C1646.7,452.3 1648.1,453.8 1649.5,455.3" fill="none" stroke="#000" stroke-width="1.33"/><path d="M1657.6,457.9 L1666.4,465.6 L1662.7,459.5 L1667.8,461.1 L1662.7,459.5 L1669.2,456.5 L1657.6,457.9Z" fill="#000" stroke="#000" stroke-width="1.33" stroke-linejoin="miter" stroke-miterlimit="10"/><circle cx="1653.5" cy="456.6" r="4.27" fill="#fff" stroke="#000" stroke-width="1.33"/>
<path d="M1390.2,485.3 C1427.0,485.3 1463.9,487.2 1500.7,487.9 C1527.5,488.4 1554.3,488.8 1581.1,489.3 C1603.6,489.7 1626.1,490.0 1648.6,490.4" fill="none" stroke="#000" stroke-width="1.33"/><path d="M1657.1,490.4 L1667.8,495.2 L1662.5,490.4 L1667.8,490.4 L1662.5,490.4 L1667.8,485.5 L1657.1,490.4Z" fill="#000" stroke="#000" stroke-width="1.33" stroke-linejoin="miter" stroke-miterlimit="10"/><circle cx="1652.9" cy="490.4" r="4.27" fill="#fff" stroke="#000" stroke-width="1.33"/>
<path d="M566.3,736.9 C575.1,736.9 584.0,734.7 592.0,730.9 C604.6,724.9 611.0,710.3 621.7,701.3 C635.4,689.8 651.0,680.9 666.2,671.6 C685.4,659.8 705.3,649.1 725.5,639.0 C744.9,629.3 764.5,619.8 784.8,612.3 C804.1,605.1 824.1,599.7 844.1,594.5 C863.7,589.4 883.5,584.9 903.4,581.2 C932.8,575.7 962.6,572.5 992.4,569.3 C1028.2,565.5 1064.2,564.5 1100.0,561.4 C1131.0,558.8 1161.9,555.4 1192.8,552.5 C1243.7,547.8 1294.6,542.9 1345.6,539.1 C1396.5,535.3 1447.5,532.5 1498.4,529.5 C1536.6,527.3 1574.8,525.9 1613.0,523.1 C1624.9,522.2 1636.7,521.3 1648.6,520.3" fill="none" stroke="#000" stroke-width="1.33"/><path d="M1657.1,520.0 L1668.0,524.4 L1662.5,519.8 L1667.8,519.6 L1662.5,519.8 L1667.6,514.9 L1657.1,520.0Z" fill="#000" stroke="#000" stroke-width="1.33" stroke-linejoin="miter" stroke-miterlimit="10"/><circle cx="1652.9" cy="520.2" r="4.27" fill="#fff" stroke="#000" stroke-width="1.33"/>
<path d="M1053.4,642.2 C1074.4,642.2 1095.4,643.8 1116.4,644.1 C1141.9,644.5 1167.4,645.0 1192.8,644.1 C1218.3,643.2 1243.8,640.9 1269.2,638.4 C1294.7,635.9 1320.2,632.7 1345.6,628.9 C1371.2,625.1 1396.6,620.6 1422.0,615.5 C1447.6,610.4 1473.1,604.6 1498.4,598.3 C1524.0,591.9 1549.6,585.2 1574.8,577.3 C1590.2,572.5 1605.5,567.5 1620.6,562.0 C1630.0,558.6 1639.4,554.9 1648.7,551.4" fill="none" stroke="#000" stroke-width="1.33"/><path d="M1657.2,550.3 L1668.4,553.8 L1662.5,549.7 L1667.8,549.0 L1662.5,549.7 L1667.2,544.2 L1657.2,550.3Z" fill="#000" stroke="#000" stroke-width="1.33" stroke-linejoin="miter" stroke-miterlimit="10"/><circle cx="1653.0" cy="550.9" r="4.27" fill="#fff" stroke="#000" stroke-width="1.33"/>
<path d="M1053.4,642.2 C1064.4,642.2 1075.0,646.0 1085.8,647.9 C1108.7,651.9 1131.6,656.0 1154.6,659.4 C1180.0,663.1 1205.5,666.4 1231.0,668.9 C1256.4,671.4 1281.9,673.0 1307.4,674.6 C1332.8,676.2 1358.3,677.9 1383.8,678.4 C1409.3,678.9 1434.8,679.0 1460.2,677.7 C1485.7,676.4 1511.3,674.6 1536.6,670.8 C1555.9,667.9 1576.0,667.1 1593.9,659.4 C1603.3,655.3 1613.5,651.5 1620.6,644.1 C1626.8,637.8 1630.5,629.3 1634.0,621.2 C1637.7,612.7 1636.8,602.4 1641.6,594.4 C1643.8,590.7 1646.9,587.6 1649.5,584.3" fill="none" stroke="#000" stroke-width="1.33"/><path d="M1657.7,581.6 L1669.3,582.9 L1662.7,580.0 L1667.8,578.3 L1662.7,580.0 L1666.3,573.7 L1657.7,581.6Z" fill="#000" stroke="#000" stroke-width="1.33" stroke-linejoin="miter" stroke-miterlimit="10"/><circle cx="1653.6" cy="582.9" r="4.27" fill="#fff" stroke="#000" stroke-width="1.33"/>
<path d="M1053.4,642.2 C1062.5,642.2 1070.9,648.2 1078.2,653.7 C1086.1,659.7 1089.5,670.4 1097.3,676.6 C1108.1,685.1 1122.5,687.6 1135.5,691.9 C1154.1,698.0 1173.5,701.7 1192.8,705.3 C1218.0,710.0 1243.6,712.6 1269.2,714.8 C1294.6,717.0 1320.1,718.1 1345.6,718.6 C1371.1,719.1 1396.6,719.2 1422.0,717.9 C1447.5,716.6 1473.1,714.4 1498.4,711.0 C1524.0,707.6 1550.0,704.8 1574.8,697.6 C1587.8,693.9 1602.6,692.8 1613.0,684.2 C1619.3,679.0 1624.4,672.3 1628.2,665.1 C1632.6,656.9 1632.8,647.1 1635.9,638.4 C1638.2,631.9 1639.1,624.6 1643.5,619.3 C1645.3,617.2 1647.6,615.5 1649.6,613.7" fill="none" stroke="#000" stroke-width="1.33"/><path d="M1657.7,611.0 L1669.3,612.2 L1662.7,609.3 L1667.8,607.6 L1662.7,609.3 L1666.3,603.0 L1657.7,611.0Z" fill="#000" stroke="#000" stroke-width="1.33" stroke-linejoin="miter" stroke-miterlimit="10"/><circle cx="1653.6" cy="612.3" r="4.27" fill="#fff" stroke="#000" stroke-width="1.33"/>
<path d="M1053.4,642.2 C1060.7,642.2 1068.5,643.7 1074.4,647.9 C1081.6,653.0 1085.0,662.4 1087.7,670.8 C1090.8,680.5 1089.6,691.2 1089.7,701.4 C1089.8,716.7 1086.9,731.9 1085.8,747.2 C1085.0,758.0 1082.2,769.0 1083.9,779.7 C1085.2,787.7 1087.2,795.9 1091.6,802.7 C1094.5,807.2 1098.9,810.5 1102.5,814.4" fill="none" stroke="#000" stroke-width="1.33"/><path d="M1110.9,816.2 L1120.3,823.2 L1116.1,817.4 L1121.3,818.5 L1116.1,817.4 L1122.3,813.8 L1110.9,816.2Z" fill="#000" stroke="#000" stroke-width="1.33" stroke-linejoin="miter" stroke-miterlimit="10"/><circle cx="1106.7" cy="815.3" r="4.27" fill="#fff" stroke="#000" stroke-width="1.33"/>
<path d="M1053.4,642.2 C1061.3,642.2 1069.7,643.6 1076.3,647.9 C1084.0,653.0 1088.5,662.1 1091.6,670.8 C1095.0,680.4 1093.4,691.2 1093.5,701.4 C1093.7,723.8 1088.0,745.9 1085.8,768.2 C1084.4,782.2 1079.6,796.4 1082.0,810.3 C1083.4,818.2 1084.9,826.7 1089.7,833.2 C1093.0,837.7 1098.2,840.6 1102.4,844.4" fill="none" stroke="#000" stroke-width="1.33"/><path d="M1110.8,845.9 L1120.4,852.5 L1116.1,846.8 L1121.3,847.8 L1116.1,846.8 L1122.2,843.1 L1110.8,845.9Z" fill="#000" stroke="#000" stroke-width="1.33" stroke-linejoin="miter" stroke-miterlimit="10"/><circle cx="1106.6" cy="845.1" r="4.27" fill="#fff" stroke="#000" stroke-width="1.33"/>
<path d="M1053.4,642.2 C1061.9,642.2 1071.1,643.2 1078.2,647.9 C1085.8,653.0 1090.4,662.1 1093.5,670.8 C1096.9,680.4 1095.4,691.2 1095.4,701.4 C1095.4,723.9 1088.9,745.9 1085.8,768.2 C1083.2,787.3 1076.8,806.4 1078.2,825.6 C1079.0,835.9 1078.8,847.1 1083.9,856.1 C1088.2,863.6 1096.2,868.2 1102.3,874.3" fill="none" stroke="#000" stroke-width="1.33"/><path d="M1110.7,875.5 L1120.6,881.8 L1116.0,876.3 L1121.3,877.1 L1116.0,876.3 L1122.0,872.4 L1110.7,875.5Z" fill="#000" stroke="#000" stroke-width="1.33" stroke-linejoin="miter" stroke-miterlimit="10"/><circle cx="1106.5" cy="874.9" r="4.27" fill="#fff" stroke="#000" stroke-width="1.33"/>
<path d="M1366.0,344.0 C1370.8,344.0 1375.7,345.3 1380.1,347.3 C1386.5,350.3 1391.2,356.1 1395.7,361.4 C1402.6,369.5 1405.4,380.5 1411.3,389.4 C1416.0,396.5 1420.3,404.2 1426.9,409.7 C1428.9,411.4 1431.2,412.8 1433.4,414.4" fill="none" stroke="#000" stroke-width="1.33"/><path d="M1441.8,415.6 L1451.7,421.8 L1447.1,416.3 L1452.4,417.0 L1447.1,416.3 L1453.1,412.2 L1441.8,415.6Z" fill="#000" stroke="#000" stroke-width="1.33" stroke-linejoin="miter" stroke-miterlimit="10"/><circle cx="1437.6" cy="415.0" r="4.27" fill="#fff" stroke="#000" stroke-width="1.33"/>
<path d="M833.6,480.1 C859.7,480.1 884.5,468.9 910.0,463.5 C948.2,455.4 986.2,446.4 1024.7,439.9 C1055.7,434.6 1086.9,430.3 1118.2,426.8 C1149.3,423.3 1180.5,420.7 1211.8,419.0 C1242.9,417.3 1274.1,417.2 1305.3,416.8 C1336.9,416.4 1368.4,416.5 1400.0,416.5 C1411.1,416.5 1422.1,416.5 1433.2,416.5" fill="none" stroke="#000" stroke-width="1.33"/><path d="M1441.7,416.7 L1452.3,421.8 L1447.1,416.9 L1452.4,417.0 L1447.1,416.9 L1452.5,412.2 L1441.7,416.7Z" fill="#000" stroke="#000" stroke-width="1.33" stroke-linejoin="miter" stroke-miterlimit="10"/><circle cx="1437.5" cy="416.6" r="4.27" fill="#fff" stroke="#000" stroke-width="1.33"/>
<path d="M579.3,480.1 C587.0,480.1 595.4,478.4 601.5,473.7 C609.6,467.5 610.3,455.2 613.6,445.5 C617.2,435.1 616.4,423.1 621.6,413.4 C624.8,407.5 629.1,402.2 633.7,397.3 C641.6,388.9 652.2,383.6 661.8,377.2 C674.8,368.6 688.3,360.6 702.0,353.1 C715.1,345.9 728.4,338.8 742.2,333.0 C755.3,327.5 768.8,322.8 782.4,318.9 C802.1,313.2 822.4,309.8 842.7,306.8 C874.9,302.1 907.6,302.8 940.0,300.8 C957.8,299.7 975.7,298.6 993.5,297.4 C1024.7,295.2 1056.0,294.3 1087.0,290.0 C1107.9,287.1 1128.7,283.0 1149.4,278.7 C1170.3,274.4 1190.9,268.6 1211.8,264.1 C1227.3,260.8 1242.7,256.7 1258.5,254.7 C1269.9,253.3 1281.3,252.1 1292.8,252.2 C1307.5,252.3 1322.2,253.6 1336.5,256.9 C1347.2,259.4 1357.7,262.7 1367.7,267.2 C1378.7,272.2 1389.9,277.7 1398.8,285.9 C1404.9,291.5 1410.7,297.8 1414.4,305.2 C1418.7,313.8 1419.3,323.8 1420.7,333.3 C1422.6,346.7 1420.5,360.4 1422.2,373.8 C1423.3,382.2 1423.9,390.9 1426.9,398.8 C1428.7,403.6 1431.4,407.9 1433.7,412.5" fill="none" stroke="#000" stroke-width="1.33"/><path d="M1442.0,414.5 L1451.3,421.7 L1447.2,415.8 L1452.4,417.0 L1447.2,415.8 L1453.5,412.3 L1442.0,414.5Z" fill="#000" stroke="#000" stroke-width="1.33" stroke-linejoin="miter" stroke-miterlimit="10"/><circle cx="1437.9" cy="413.5" r="4.27" fill="#fff" stroke="#000" stroke-width="1.33"/>
<path d="M1053.4,642.2 C1075.0,642.2 1094.2,627.8 1114.4,620.1 C1139.4,610.6 1163.8,599.8 1188.8,590.4 C1213.4,581.2 1238.0,571.8 1263.2,564.3 C1287.7,557.0 1312.6,551.2 1337.6,545.7 C1356.1,541.6 1377.7,545.3 1393.3,534.6 C1400.5,529.6 1407.4,523.5 1411.9,516.0 C1417.1,507.2 1417.8,496.3 1419.4,486.2 C1421.1,475.2 1419.7,463.8 1421.2,452.7 C1422.1,445.8 1422.1,438.6 1425.0,432.3 C1427.1,427.8 1430.6,424.2 1433.5,420.2" fill="none" stroke="#000" stroke-width="1.33"/><path d="M1441.9,418.8 L1453.2,421.7 L1447.1,417.9 L1452.4,417.0 L1447.1,417.9 L1451.6,412.3 L1441.9,418.8Z" fill="#000" stroke="#000" stroke-width="1.33" stroke-linejoin="miter" stroke-miterlimit="10"/><circle cx="1437.7" cy="419.5" r="4.27" fill="#fff" stroke="#000" stroke-width="1.33"/>
<path d="M1053.4,642.2 C1074.9,642.2 1094.2,628.4 1114.4,621.0 C1139.4,611.8 1163.8,601.2 1188.8,592.0 C1213.4,583.0 1238.0,573.8 1263.2,566.3 C1287.7,559.0 1312.7,553.3 1337.6,547.7 C1357.1,543.3 1379.9,547.0 1396.3,535.6 C1403.5,530.6 1410.5,524.6 1415.0,517.0 C1420.4,507.9 1420.8,496.6 1422.4,486.2 C1424.0,475.1 1422.7,463.8 1424.2,452.7 C1425.0,446.4 1425.1,439.9 1427.5,434.0 C1429.1,429.9 1431.9,426.4 1434.0,422.7" fill="none" stroke="#000" stroke-width="1.33"/><path d="M1442.2,420.1 L1453.8,421.6 L1447.3,418.6 L1452.4,417.0 L1447.3,418.6 L1451.0,412.4 L1442.2,420.1Z" fill="#000" stroke="#000" stroke-width="1.33" stroke-linejoin="miter" stroke-miterlimit="10"/><circle cx="1438.1" cy="421.4" r="4.27" fill="#fff" stroke="#000" stroke-width="1.33"/>
<path d="M833.6,480.1 C855.7,480.1 877.9,480.3 900.0,480.6 C933.3,481.1 966.7,482.5 1000.0,483.2 C1020.0,483.6 1040.0,484.0 1060.0,484.2 C1072.6,484.3 1085.3,484.4 1097.9,484.4" fill="none" stroke="#000" stroke-width="1.33"/><path d="M1106.4,484.7 L1117.0,489.8 L1111.8,484.8 L1117.1,485.0 L1111.8,484.8 L1117.2,480.2 L1106.4,484.7Z" fill="#000" stroke="#000" stroke-width="1.33" stroke-linejoin="miter" stroke-miterlimit="10"/><circle cx="1102.2" cy="484.6" r="4.27" fill="#fff" stroke="#000" stroke-width="1.33"/>
<path d="M579.3,480.1 C588.7,480.1 598.7,476.1 605.5,469.6 C612.9,462.6 612.6,450.4 617.6,441.5 C621.1,435.2 624.3,428.3 629.6,423.4 C638.0,415.6 650.7,414.4 661.8,411.4 C674.9,407.9 688.5,406.0 702.0,405.3 C708.7,405.0 715.4,405.0 722.1,405.3 C735.6,406.0 748.9,409.1 762.3,411.4 C775.8,413.8 789.0,417.1 802.5,419.4 C822.5,422.8 842.7,424.5 862.8,427.4 C888.6,431.1 914.3,435.1 940.0,439.5 C960.0,442.9 980.1,446.2 1000.0,450.5 C1013.4,453.4 1026.8,456.5 1040.0,460.2 C1050.0,463.0 1060.2,465.5 1069.8,469.5 C1076.2,472.2 1082.1,475.9 1088.4,478.8 C1091.6,480.3 1094.8,481.7 1098.0,483.1" fill="none" stroke="#000" stroke-width="1.33"/><path d="M1106.5,483.9 L1116.6,489.8 L1111.8,484.5 L1117.1,485.0 L1111.8,484.5 L1117.6,480.2 L1106.5,483.9Z" fill="#000" stroke="#000" stroke-width="1.33" stroke-linejoin="miter" stroke-miterlimit="10"/><circle cx="1102.2" cy="483.5" r="4.27" fill="#fff" stroke="#000" stroke-width="1.33"/>
<path d="M1053.4,642.2 C1058.5,642.2 1063.6,639.8 1067.9,636.9 C1072.7,633.7 1076.3,628.8 1079.1,623.8 C1083.4,616.1 1083.4,606.6 1084.6,597.8 C1086.2,585.5 1085.5,573.0 1085.4,560.6 C1085.3,548.2 1082.6,535.7 1083.9,523.4 C1084.7,515.9 1084.9,507.9 1088.4,501.1 C1090.8,496.4 1094.9,492.7 1098.2,488.5" fill="none" stroke="#000" stroke-width="1.33"/><path d="M1106.6,487.0 L1118.0,489.7 L1111.9,486.0 L1117.1,485.0 L1111.9,486.0 L1116.2,480.3 L1106.6,487.0Z" fill="#000" stroke="#000" stroke-width="1.33" stroke-linejoin="miter" stroke-miterlimit="10"/><circle cx="1102.4" cy="487.7" r="4.27" fill="#fff" stroke="#000" stroke-width="1.33"/>
<path d="M1053.4,642.2 C1058.8,642.2 1064.3,640.2 1068.9,637.4 C1073.9,634.4 1078.0,629.8 1081.1,624.8 C1086.0,617.0 1085.9,606.9 1087.2,597.8 C1089.0,585.5 1088.6,573.0 1088.6,560.6 C1088.6,548.2 1085.6,535.7 1087.0,523.4 C1087.8,516.5 1088.3,509.4 1091.0,503.1 C1092.9,498.6 1096.2,494.8 1098.7,490.6" fill="none" stroke="#000" stroke-width="1.33"/><path d="M1106.9,488.1 L1118.5,489.6 L1112.0,486.6 L1117.1,485.0 L1112.0,486.6 L1115.7,480.4 L1106.9,488.1Z" fill="#000" stroke="#000" stroke-width="1.33" stroke-linejoin="miter" stroke-miterlimit="10"/><circle cx="1102.8" cy="489.4" r="4.27" fill="#fff" stroke="#000" stroke-width="1.33"/>
<path d="M1053.4,642.2 C1059.4,642.2 1065.1,638.7 1069.8,635.0 C1074.7,631.2 1078.0,625.6 1080.9,620.1 C1085.7,611.1 1086.3,600.4 1088.4,590.4 C1090.9,578.1 1092.5,565.7 1093.9,553.2 C1096.0,534.7 1096.4,516.0 1097.7,497.4 C1098.9,478.8 1099.8,460.2 1101.4,441.6 C1102.9,424.2 1102.7,406.4 1106.9,389.5 C1109.3,380.0 1111.1,370.0 1116.2,361.6 C1118.3,358.1 1121.1,355.0 1123.5,351.6" fill="none" stroke="#000" stroke-width="1.33"/><path d="M1131.3,348.1 L1143.0,348.1 L1136.1,345.9 L1141.0,343.7 L1136.1,345.9 L1139.0,339.3 L1131.3,348.1Z" fill="#000" stroke="#000" stroke-width="1.33" stroke-linejoin="miter" stroke-miterlimit="10"/><circle cx="1127.4" cy="349.9" r="4.27" fill="#fff" stroke="#000" stroke-width="1.33"/>
<path d="M1053.4,642.2 C1059.6,642.2 1065.8,639.1 1070.8,635.5 C1076.0,631.8 1079.7,626.2 1082.9,620.6 C1088.0,611.6 1088.5,600.6 1090.6,590.4 C1093.1,578.1 1094.6,565.6 1096.0,553.2 C1098.1,534.7 1098.6,516.0 1099.9,497.4 C1101.2,478.8 1102.0,460.2 1103.6,441.6 C1105.1,424.5 1104.9,407.1 1109.1,390.5 C1111.4,381.3 1113.7,372.0 1118.2,363.6 C1120.1,360.1 1122.4,356.9 1124.5,353.5" fill="none" stroke="#000" stroke-width="1.33"/><path d="M1131.8,349.2 L1143.5,347.8 L1136.4,346.4 L1141.0,343.7 L1136.4,346.4 L1138.5,339.6 L1131.8,349.2Z" fill="#000" stroke="#000" stroke-width="1.33" stroke-linejoin="miter" stroke-miterlimit="10"/><circle cx="1128.2" cy="351.3" r="4.27" fill="#fff" stroke="#000" stroke-width="1.33"/>
<path d="M833.6,480.1 C839.1,480.1 845.0,479.3 850.0,481.5 C854.9,483.6 859.2,487.5 862.0,492.0 C865.3,497.3 865.2,504.0 866.2,510.2 C868.5,525.1 865.6,540.3 865.2,555.4 C864.8,570.5 862.0,585.6 863.7,600.6 C864.6,608.8 865.0,617.3 868.3,624.8 C870.5,629.9 874.3,634.3 877.3,639.1" fill="none" stroke="#000" stroke-width="1.33"/><path d="M885.7,640.5 L895.4,647.1 L890.9,641.5 L896.2,642.4 L890.9,641.5 L897.0,637.7 L885.7,640.5Z" fill="#000" stroke="#000" stroke-width="1.33" stroke-linejoin="miter" stroke-miterlimit="10"/><circle cx="881.5" cy="639.8" r="4.27" fill="#fff" stroke="#000" stroke-width="1.33"/>
<path d="M566.3,736.9 C579.8,736.9 593.4,736.6 606.9,735.4 C626.9,733.6 646.8,730.0 666.2,725.0 C686.5,719.8 705.9,711.6 725.5,704.3 C745.4,696.8 764.7,687.5 784.8,680.5 C804.3,673.7 825.0,670.5 844.1,662.7 C852.1,659.4 860.2,656.1 867.8,651.9 C871.0,650.1 874.2,648.0 877.4,646.1" fill="none" stroke="#000" stroke-width="1.33"/><path d="M885.7,644.5 L897.1,647.1 L891.0,643.4 L896.2,642.4 L891.0,643.4 L895.3,637.7 L885.7,644.5Z" fill="#000" stroke="#000" stroke-width="1.33" stroke-linejoin="miter" stroke-miterlimit="10"/><circle cx="881.5" cy="645.3" r="4.27" fill="#fff" stroke="#000" stroke-width="1.33"/>
<path d="M1053.4,642.2 C1058.2,642.2 1062.7,646.7 1064.8,651.0 C1067.3,656.1 1064.6,662.5 1063.0,668.0 C1060.8,675.5 1055.9,682.0 1051.0,688.0 C1044.2,696.2 1035.5,703.1 1026.0,708.0 C1017.3,712.5 1007.7,715.2 998.0,716.5 C992.0,717.3 986.0,717.3 980.0,717.0 C970.9,716.6 961.9,715.1 953.0,713.0 C942.0,710.4 931.3,706.7 921.0,702.0 C912.3,698.0 903.6,693.7 896.0,688.0 C889.4,683.1 882.8,677.7 878.0,671.0 C874.7,666.4 869.0,661.6 870.0,656.0 C870.5,653.2 871.8,650.3 874.0,648.5 C875.0,647.6 876.3,647.2 877.4,646.5" fill="none" stroke="#000" stroke-width="1.33"/><path d="M885.8,644.7 L897.2,647.1 L891.0,643.5 L896.2,642.4 L891.0,643.5 L895.2,637.7 L885.8,644.7Z" fill="#000" stroke="#000" stroke-width="1.33" stroke-linejoin="miter" stroke-miterlimit="10"/><circle cx="881.6" cy="645.6" r="4.27" fill="#fff" stroke="#000" stroke-width="1.33"/>
<path d="M1053.4,642.2 C1058.4,642.2 1062.9,647.0 1065.0,651.5 C1067.4,656.7 1064.9,663.0 1063.4,668.5 C1061.3,676.1 1056.5,682.9 1051.6,689.0 C1044.8,697.4 1036.0,704.3 1026.4,709.3 C1017.6,713.9 1007.8,716.7 998.0,718.0 C992.0,718.8 986.0,718.8 980.0,718.5 C970.9,718.1 961.9,716.6 953.0,714.5 C941.8,711.9 930.9,708.0 920.5,703.2 C911.7,699.2 902.8,694.8 895.0,689.0 C888.2,683.9 881.3,678.5 876.5,671.5 C873.0,666.5 867.1,660.9 868.5,655.0 C869.2,652.2 870.6,649.2 873.0,647.5 C874.3,646.6 875.9,646.3 877.3,645.7" fill="none" stroke="#000" stroke-width="1.33"/><path d="M885.7,644.3 L897.0,647.1 L890.9,643.3 L896.2,642.4 L890.9,643.3 L895.4,637.7 L885.7,644.3Z" fill="#000" stroke="#000" stroke-width="1.33" stroke-linejoin="miter" stroke-miterlimit="10"/><circle cx="881.5" cy="645.0" r="4.27" fill="#fff" stroke="#000" stroke-width="1.33"/>
<path d="M579.3,480.1 C586.2,480.1 593.1,480.2 600.0,480.3 C607.5,480.4 615.1,480.6 622.6,480.7" fill="none" stroke="#000" stroke-width="1.33"/><path d="M631.1,480.5 L642.0,484.9 L636.5,480.3 L641.8,480.1 L636.5,480.3 L641.6,475.3 L631.1,480.5Z" fill="#000" stroke="#000" stroke-width="1.33" stroke-linejoin="miter" stroke-miterlimit="10"/><circle cx="626.9" cy="480.6" r="4.27" fill="#fff" stroke="#000" stroke-width="1.33"/>
<path d="M566.3,736.9 C572.0,736.9 577.8,736.1 583.1,733.9 C590.2,730.9 596.4,725.3 600.9,719.1 C606.4,711.5 608.2,701.6 609.8,692.4 C612.4,677.8 608.4,662.7 606.9,647.9 C605.4,633.0 602.6,618.3 600.9,603.4 C599.2,588.6 597.5,573.8 596.5,559.0 C595.8,549.1 594.3,539.2 595.0,529.3 C595.7,519.3 595.8,508.4 600.9,499.7 C603.9,494.6 607.7,489.8 612.5,486.5 C615.6,484.4 619.3,483.3 622.7,481.7" fill="none" stroke="#000" stroke-width="1.33"/><path d="M631.2,481.0 L642.2,484.9 L636.5,480.6 L641.8,480.1 L636.5,480.6 L641.4,475.3 L631.2,481.0Z" fill="#000" stroke="#000" stroke-width="1.33" stroke-linejoin="miter" stroke-miterlimit="10"/><circle cx="626.9" cy="481.4" r="4.27" fill="#fff" stroke="#000" stroke-width="1.33"/>
<path d="M1053.4,642.2 C1057.7,642.2 1062.3,645.2 1064.4,648.9 C1066.8,653.1 1064.7,658.6 1063.5,663.3 C1061.8,670.0 1057.7,675.9 1053.5,681.4 C1047.3,689.6 1039.1,696.6 1030.0,701.3 C1021.6,705.6 1012.1,707.6 1002.8,708.6 C996.8,709.2 990.7,709.1 984.7,708.6 C975.5,707.9 966.5,705.4 957.6,703.1 C945.2,699.9 933.1,695.7 921.4,690.5 C912.1,686.3 902.6,682.0 894.3,676.0 C887.7,671.2 881.0,666.2 876.2,659.7 C872.2,654.3 869.3,648.0 867.1,641.6 C864.4,634.1 864.0,626.0 862.6,618.1 C861.2,610.3 861.3,602.1 858.9,594.5 C855.8,584.8 850.7,575.6 844.1,567.9 C836.2,558.8 825.5,551.9 814.4,547.1 C805.1,543.0 794.9,541.2 784.8,539.7 C770.1,537.6 755.1,539.3 740.3,539.7 C723.5,540.2 706.6,544.8 689.9,542.6 C679.8,541.3 669.2,540.0 660.2,535.2 C652.2,530.9 644.5,525.0 639.5,517.4 C635.4,511.2 634.2,503.4 631.6,496.3" fill="none" stroke="#000" stroke-width="1.33"/><path d="M636.1,489.1 L645.9,482.7 L639.0,484.6 L641.8,480.1 L639.0,484.6 L637.7,477.5 L636.1,489.1Z" fill="#000" stroke="#000" stroke-width="1.33" stroke-linejoin="miter" stroke-miterlimit="10"/><circle cx="633.8" cy="492.7" r="4.27" fill="#fff" stroke="#000" stroke-width="1.33"/>
<path d="M1053.4,642.2 C1057.8,642.2 1062.6,645.1 1064.9,648.9 C1067.4,653.2 1065.4,659.0 1064.3,663.8 C1062.7,670.7 1058.7,676.9 1054.5,682.6 C1048.4,691.0 1040.2,698.2 1031.0,703.0 C1022.4,707.5 1012.5,709.6 1002.8,710.6 C996.8,711.2 990.7,711.2 984.7,710.8 C975.5,710.2 966.5,707.7 957.6,705.5 C945.3,702.4 933.1,698.4 921.4,693.5 C912.1,689.6 902.5,685.8 894.3,680.0 C888.1,675.6 881.7,670.9 877.2,664.7 C873.5,659.6 871.2,653.6 869.1,647.6 C866.6,640.4 866.7,632.4 864.6,625.1 C863.0,619.8 861.1,614.5 858.9,609.4 C854.9,600.0 850.8,590.4 844.1,582.7 C837.6,575.3 829.2,569.3 820.4,564.9 C809.5,559.4 796.9,557.5 784.8,556.0 C770.1,554.2 755.1,557.0 740.3,557.5 C725.5,558.0 710.5,561.3 695.8,559.0 C685.6,557.4 675.0,555.4 666.2,550.1 C657.8,545.0 650.7,537.6 645.4,529.3 C639.5,520.0 638.3,508.4 634.8,498.0" fill="none" stroke="#000" stroke-width="1.33"/><path d="M637.9,490.0 L646.3,481.9 L639.9,485.1 L641.8,480.1 L639.9,485.1 L637.3,478.3 L637.9,490.0Z" fill="#000" stroke="#000" stroke-width="1.33" stroke-linejoin="miter" stroke-miterlimit="10"/><circle cx="636.3" cy="494.0" r="4.27" fill="#fff" stroke="#000" stroke-width="1.33"/>
<path d="M1366.0,344.0 C1368.8,344.0 1371.8,344.6 1373.9,346.4 C1376.3,348.4 1377.0,352.0 1377.6,355.1 C1378.6,360.2 1377.2,365.8 1375.4,370.7 C1373.2,376.7 1369.3,382.2 1364.5,386.3 C1357.0,392.6 1346.0,392.8 1336.5,395.0 C1316.2,399.6 1294.9,398.2 1274.1,398.8 C1242.9,399.7 1211.8,398.4 1180.6,397.4 C1167.1,397.0 1153.5,396.4 1140.0,395.8 C1113.7,394.6 1087.5,392.4 1061.2,391.2 C1034.4,390.0 1007.6,388.6 980.8,388.7 C967.4,388.7 954.0,388.7 940.6,389.5 C930.5,390.1 920.3,390.0 910.5,392.2 C905.7,393.2 900.9,394.3 896.4,396.2 C892.1,398.0 887.8,400.2 884.3,403.2 C880.7,406.3 877.7,410.2 875.3,414.3 C873.1,418.0 871.6,422.2 870.3,426.3 C868.5,432.1 867.9,438.3 867.2,444.4 C866.4,451.1 866.2,457.8 865.8,464.5 C865.4,471.2 865.8,478.0 864.6,484.6 C863.6,490.1 862.6,495.7 860.2,500.7 C857.8,505.9 854.4,510.8 850.2,514.8 C846.1,518.6 841.2,521.6 836.1,523.8 C829.5,526.6 822.1,526.9 815.0,528.0 C796.9,530.7 778.3,529.5 760.0,529.5 C740.0,529.5 719.8,530.6 700.0,528.0 C687.9,526.4 675.3,525.7 664.0,521.0 C656.1,517.7 648.4,513.7 642.0,508.0 C638.2,504.6 635.2,500.3 631.8,496.5" fill="none" stroke="#000" stroke-width="1.33"/><path d="M636.3,489.2 L645.9,482.6 L639.0,484.7 L641.8,480.1 L639.0,484.7 L637.7,477.6 L636.3,489.2Z" fill="#000" stroke="#000" stroke-width="1.33" stroke-linejoin="miter" stroke-miterlimit="10"/><circle cx="634.0" cy="492.9" r="4.27" fill="#fff" stroke="#000" stroke-width="1.33"/>
<path d="M1366.0,344.0 C1368.9,344.0 1372.1,344.6 1374.4,346.4 C1376.9,348.4 1377.8,352.0 1378.6,355.1 C1379.9,360.4 1378.4,366.1 1376.6,371.2 C1374.5,377.3 1370.8,383.0 1366.0,387.3 C1358.7,393.8 1347.6,394.2 1338.0,396.5 C1317.3,401.5 1295.4,399.7 1274.1,400.3 C1242.9,401.1 1211.8,399.3 1180.6,398.2 C1167.1,397.7 1153.5,397.0 1140.0,396.6 C1113.7,395.9 1087.5,396.3 1061.2,396.4 C1034.4,396.5 1007.6,396.6 980.8,397.2 C960.7,397.7 940.5,397.2 920.5,399.2 C912.4,400.0 903.8,399.0 896.4,402.2 C892.8,403.7 889.3,405.6 886.3,408.2 C883.0,411.0 880.6,414.7 878.3,418.3 C875.9,422.1 873.9,426.2 872.3,430.4 C870.2,436.2 869.4,442.3 868.4,448.4 C867.5,453.7 867.1,459.1 866.6,464.5 C866.0,471.2 866.5,478.0 865.4,484.6 C864.5,490.2 863.6,496.0 861.2,501.2 C858.8,506.5 855.4,511.5 851.2,515.6 C847.2,519.5 842.2,522.5 837.1,524.8 C830.2,527.9 822.4,528.3 815.0,529.5 C796.9,532.4 778.3,531.0 760.0,531.0 C740.0,531.0 719.9,531.8 700.0,529.5 C687.2,528.1 673.8,528.2 662.0,523.0 C654.4,519.7 646.6,515.6 641.0,509.5 C637.6,505.8 635.5,501.2 632.8,497.0" fill="none" stroke="#000" stroke-width="1.33"/><path d="M636.8,489.5 L646.0,482.4 L639.3,484.8 L641.8,480.1 L639.3,484.8 L637.6,477.8 L636.8,489.5Z" fill="#000" stroke="#000" stroke-width="1.33" stroke-linejoin="miter" stroke-miterlimit="10"/><circle cx="634.8" cy="493.3" r="4.27" fill="#fff" stroke="#000" stroke-width="1.33"/>
<path d="M833.6,480.1 C836.6,480.1 840.0,480.6 842.1,482.6 C844.2,484.6 844.7,487.9 845.1,490.7 C845.8,495.4 843.9,500.3 842.1,504.7 C839.9,510.0 836.4,515.0 832.1,518.8 C828.1,522.3 823.0,524.6 818.0,526.5 C809.2,529.8 799.4,528.9 790.0,529.5 C773.4,530.6 756.7,530.2 740.0,529.5 C723.3,528.8 706.3,529.2 690.0,525.5 C679.0,523.0 667.9,520.4 658.0,515.0 C652.1,511.8 646.9,507.5 641.5,503.5 C638.8,501.5 636.1,499.4 633.4,497.4" fill="none" stroke="#000" stroke-width="1.33"/><path d="M637.1,489.7 L646.1,482.2 L639.5,484.9 L641.8,480.1 L639.5,484.9 L637.5,478.0 L637.1,489.7Z" fill="#000" stroke="#000" stroke-width="1.33" stroke-linejoin="miter" stroke-miterlimit="10"/><circle cx="635.3" cy="493.5" r="4.27" fill="#fff" stroke="#000" stroke-width="1.33"/>
<path d="M312.2,548.3 C316.7,548.3 321.4,548.1 325.6,546.3 C330.4,544.3 334.5,540.4 337.7,536.3 C343.3,529.2 342.4,518.7 345.7,510.2 C348.1,504.0 350.5,497.8 353.8,492.1 C355.0,490.1 356.2,488.2 357.5,486.2" fill="none" stroke="#000" stroke-width="1.33"/><path d="M365.6,483.6 L377.2,484.8 L370.6,481.9 L375.7,480.2 L370.6,481.9 L374.2,475.6 L365.6,483.6Z" fill="#000" stroke="#000" stroke-width="1.33" stroke-linejoin="miter" stroke-miterlimit="10"/><circle cx="361.5" cy="484.9" r="4.27" fill="#fff" stroke="#000" stroke-width="1.33"/>
<path d="M833.6,480.1 C836.6,480.1 840.0,480.6 842.1,482.6 C844.2,484.6 844.7,487.9 845.1,490.7 C845.8,495.4 843.9,500.3 842.1,504.7 C839.9,510.0 836.4,515.0 832.1,518.8 C828.1,522.3 823.0,524.5 818.0,526.5 C807.6,530.8 795.9,530.4 784.8,531.8 C755.3,535.4 725.5,533.3 695.8,533.8 C666.2,534.3 636.5,534.6 606.9,534.6 C577.2,534.6 547.6,534.4 517.9,533.8 C488.3,533.2 458.5,533.7 429.0,530.8 C415.3,529.4 399.6,532.9 388.0,525.5 C382.5,522.0 378.0,517.1 374.0,512.0 C370.2,507.1 367.8,501.3 364.7,495.9" fill="none" stroke="#000" stroke-width="1.33"/><path d="M369.6,488.9 L379.6,483.0 L372.6,484.6 L375.7,480.2 L372.6,484.6 L371.8,477.4 L369.6,488.9Z" fill="#000" stroke="#000" stroke-width="1.33" stroke-linejoin="miter" stroke-miterlimit="10"/><circle cx="367.1" cy="492.4" r="4.27" fill="#fff" stroke="#000" stroke-width="1.33"/>
<path d="M1053.4,642.2 C1059.1,642.2 1063.5,648.9 1065.3,654.3 C1067.3,660.1 1064.5,666.6 1062.5,672.4 C1059.7,680.6 1054.0,687.7 1048.1,694.1 C1040.5,702.4 1030.8,708.7 1020.9,714.0 C1012.3,718.6 1003.4,723.0 993.8,724.8 C987.9,725.9 981.7,726.1 975.7,726.1 C966.6,726.1 957.5,724.9 948.6,723.0 C939.3,721.0 930.0,718.1 921.4,714.0 C913.1,710.1 905.1,705.2 897.9,699.5 C891.2,694.2 885.1,688.1 879.8,681.4 C874.9,675.2 871.1,668.3 867.1,661.5 C863.9,656.2 861.5,650.4 858.1,645.2 C855.3,640.8 852.5,636.4 849.0,632.6 C843.5,626.7 836.2,622.6 829.3,618.3 C815.5,609.5 800.3,602.8 784.8,597.5 C770.4,592.6 755.4,589.3 740.3,587.1 C725.6,584.9 710.7,584.4 695.8,584.2 C676.0,583.9 656.2,585.6 636.5,587.1 C616.7,588.6 597.0,591.5 577.2,593.1 C561.4,594.3 545.6,596.2 529.8,596.0 C513.9,595.8 497.9,594.7 482.3,591.6 C466.1,588.4 449.9,583.7 434.9,576.7 C420.0,569.7 404.9,561.8 393.4,550.1 C384.9,541.5 377.7,531.4 372.6,520.4 C369.0,512.6 367.3,504.1 364.7,495.9" fill="none" stroke="#000" stroke-width="1.33"/><path d="M369.6,488.9 L379.6,483.0 L372.6,484.6 L375.7,480.2 L372.6,484.6 L371.8,477.4 L369.6,488.9Z" fill="#000" stroke="#000" stroke-width="1.33" stroke-linejoin="miter" stroke-miterlimit="10"/><circle cx="367.1" cy="492.4" r="4.27" fill="#fff" stroke="#000" stroke-width="1.33"/>
<path d="M1053.4,642.2 C1059.2,642.2 1063.8,648.9 1065.8,654.3 C1068.0,660.2 1065.2,667.0 1063.3,672.9 C1060.6,681.3 1054.9,688.5 1049.1,695.1 C1041.5,703.7 1031.5,710.1 1021.4,715.5 C1012.7,720.2 1003.5,724.5 993.8,726.3 C987.9,727.4 981.7,727.6 975.7,727.6 C966.6,727.6 957.5,726.4 948.6,724.5 C938.9,722.4 929.4,719.3 920.4,715.0 C911.9,710.9 903.8,705.9 896.4,700.0 C889.6,694.5 883.1,688.4 877.8,681.4 C872.7,674.7 869.1,667.0 865.1,659.5 C861.9,653.5 859.7,647.0 856.1,641.2 C853.4,636.8 850.4,632.5 847.0,628.6 C841.8,622.6 835.7,617.5 829.3,612.8 C816.1,603.0 800.4,596.6 784.8,591.5 C770.4,586.8 755.3,584.6 740.3,582.6 C725.6,580.7 710.7,580.2 695.8,579.8 C676.0,579.3 656.2,579.4 636.5,581.1 C616.6,582.8 597.0,587.6 577.2,590.0 C561.4,591.9 545.7,594.5 529.8,594.5 C513.9,594.5 497.9,593.3 482.3,590.1 C466.4,586.9 450.6,582.1 435.9,575.2 C421.0,568.2 405.9,560.3 394.4,548.6 C386.0,540.1 378.9,530.1 373.6,519.4 C370.0,512.0 368.0,504.0 365.2,496.3" fill="none" stroke="#000" stroke-width="1.33"/><path d="M369.8,489.1 L379.7,482.8 L372.8,484.7 L375.7,480.2 L372.8,484.7 L371.7,477.6 L369.8,489.1Z" fill="#000" stroke="#000" stroke-width="1.33" stroke-linejoin="miter" stroke-miterlimit="10"/><circle cx="367.5" cy="492.7" r="4.27" fill="#fff" stroke="#000" stroke-width="1.33"/>
<path d="M1053.4,642.2 C1058.1,642.2 1059.0,650.3 1059.0,655.0 C1059.0,660.8 1053.2,665.1 1050.0,670.0 C1044.0,679.1 1037.7,688.0 1030.2,695.9 C1019.1,707.7 1005.4,716.8 991.7,725.5 C973.2,737.2 953.2,746.9 932.4,753.7 C913.3,759.9 893.2,763.2 873.2,765.5 C853.6,767.8 833.7,767.6 813.9,767.6 C784.3,767.6 754.7,764.3 725.1,762.6 C695.5,760.9 665.9,757.2 636.2,757.5 C611.5,757.8 586.6,758.5 562.2,762.6 C542.1,766.0 522.7,772.7 502.9,777.4 C488.1,780.9 473.7,786.8 458.5,787.7 C448.6,788.3 438.5,788.5 428.9,786.3 C418.3,783.9 407.4,780.0 399.2,772.9 C393.8,768.3 390.4,761.8 386.0,756.3" fill="none" stroke="#000" stroke-width="1.33"/><path d="M387.4,747.8 L393.8,738.1 L388.2,742.6 L389.1,737.3 L388.2,742.6 L384.4,736.5 L387.4,747.8Z" fill="#000" stroke="#000" stroke-width="1.33" stroke-linejoin="miter" stroke-miterlimit="10"/><circle cx="386.7" cy="752.0" r="4.27" fill="#fff" stroke="#000" stroke-width="1.33"/>
<path d="M1053.4,642.2 C1059.8,642.2 1059.9,653.6 1060.5,660.0 C1061.3,668.7 1057.2,677.4 1053.0,685.0 C1048.8,692.6 1042.0,698.5 1036.1,704.8 C1022.7,719.1 1007.9,732.3 991.7,743.3 C973.4,755.7 953.4,766.0 932.4,772.9 C913.3,779.2 893.2,782.2 873.2,784.2 C853.5,786.1 833.7,785.2 813.9,784.8 C784.2,784.2 754.7,780.5 725.1,778.9 C695.5,777.3 665.8,774.6 636.2,775.3 C606.5,776.0 576.5,777.5 547.3,783.3 C527.2,787.3 508.2,795.6 488.1,799.6 C475.4,802.1 462.6,805.7 449.6,805.5 C437.6,805.3 425.1,804.5 414.1,799.6 C403.8,795.0 393.7,788.3 387.4,778.9 C382.4,771.4 381.4,761.8 378.5,753.3" fill="none" stroke="#000" stroke-width="1.33"/><path d="M383.2,746.2 L393.1,740.0 L386.1,741.7 L389.1,737.3 L386.1,741.7 L385.1,734.6 L383.2,746.2Z" fill="#000" stroke="#000" stroke-width="1.33" stroke-linejoin="miter" stroke-miterlimit="10"/><circle cx="380.8" cy="749.7" r="4.27" fill="#fff" stroke="#000" stroke-width="1.33"/>
<path d="M1053.4,642.2 C1059.9,642.2 1060.3,653.6 1061.0,660.0 C1062.0,668.6 1058.0,677.3 1054.0,685.0 C1049.9,692.9 1043.1,699.2 1037.1,705.8 C1023.9,720.3 1008.9,733.3 992.7,744.3 C974.1,756.9 953.7,767.2 932.4,774.2 C913.3,780.4 893.2,783.4 873.2,785.4 C853.5,787.3 833.7,786.4 813.9,786.0 C784.2,785.4 754.7,781.7 725.1,780.1 C695.5,778.5 665.8,775.8 636.2,776.5 C606.5,777.2 576.5,778.7 547.3,784.5 C527.2,788.5 508.2,796.8 488.1,800.8 C475.4,803.3 462.6,806.9 449.6,806.7 C437.4,806.5 424.7,805.6 413.6,800.6 C403.2,795.9 392.8,789.1 386.6,779.5 C381.6,771.8 381.0,761.9 378.2,753.2" fill="none" stroke="#000" stroke-width="1.33"/><path d="M383.1,746.1 L393.1,740.0 L386.1,741.7 L389.1,737.3 L386.1,741.7 L385.1,734.6 L383.1,746.1Z" fill="#000" stroke="#000" stroke-width="1.33" stroke-linejoin="miter" stroke-miterlimit="10"/><circle cx="380.7" cy="749.6" r="4.27" fill="#fff" stroke="#000" stroke-width="1.33"/>
<path d="M1053.4,642.2 C1060.6,642.2 1060.5,655.0 1062.0,662.0 C1064.0,671.1 1063.9,681.1 1061.0,690.0 C1057.0,702.3 1044.9,710.1 1036.1,719.6 C1022.4,734.5 1008.3,749.4 991.7,761.1 C973.6,773.8 953.4,783.9 932.4,790.7 C913.3,796.8 893.1,799.2 873.2,801.1 C853.5,803.0 833.7,802.4 813.9,802.0 C784.2,801.5 754.7,797.6 725.1,796.0 C695.5,794.4 665.9,791.6 636.2,792.2 C606.5,792.8 576.4,793.5 547.3,799.6 C527.1,803.8 508.3,813.2 488.1,817.4 C475.4,820.1 462.6,823.6 449.6,823.3 C435.5,823.0 420.3,821.6 408.1,814.4 C397.6,808.2 388.2,798.7 383.0,787.7 C378.0,777.1 379.7,764.6 378.1,753.0" fill="none" stroke="#000" stroke-width="1.33"/><path d="M383.0,746.0 L393.0,740.1 L386.0,741.7 L389.1,737.3 L386.0,741.7 L385.2,734.5 L383.0,746.0Z" fill="#000" stroke="#000" stroke-width="1.33" stroke-linejoin="miter" stroke-miterlimit="10"/><circle cx="380.5" cy="749.5" r="4.27" fill="#fff" stroke="#000" stroke-width="1.33"/>
<path d="M833.6,480.1 C836.6,480.1 840.0,480.6 842.1,482.6 C844.2,484.6 844.7,487.9 845.1,490.7 C845.8,495.4 843.9,500.3 842.1,504.7 C839.9,510.0 836.4,515.0 832.1,518.8 C828.1,522.3 823.0,524.5 818.0,526.5 C807.6,530.7 795.9,530.4 784.8,531.0 C769.9,531.9 754.9,529.7 740.0,529.0 C720.3,528.1 700.7,526.2 681.0,526.5 C671.1,526.6 661.0,525.6 651.4,527.8 C640.8,530.2 630.1,534.3 621.7,541.2 C614.1,547.5 607.7,555.8 603.9,564.9 C600.8,572.3 600.3,580.6 599.5,588.6 C597.8,605.7 602.2,622.9 604.0,640.0 C605.8,656.7 610.2,673.2 610.1,690.0 C610.1,694.9 610.0,699.9 609.5,704.8 C608.6,714.8 606.9,724.9 603.6,734.4 C599.1,747.4 591.7,759.4 582.9,770.0 C573.1,781.9 560.1,790.9 547.3,799.6 C533.4,809.0 518.4,817.0 502.9,823.3 C488.6,829.1 473.9,835.3 458.5,836.6 C448.7,837.4 438.6,837.1 428.9,835.1 C418.5,832.9 407.5,829.9 399.2,823.3 C390.0,816.0 383.8,804.8 380.0,793.7 C375.6,780.8 378.6,766.5 377.9,752.9" fill="none" stroke="#000" stroke-width="1.33"/><path d="M382.9,746.0 L393.0,740.1 L386.0,741.6 L389.1,737.3 L386.0,741.6 L385.2,734.5 L382.9,746.0Z" fill="#000" stroke="#000" stroke-width="1.33" stroke-linejoin="miter" stroke-miterlimit="10"/><circle cx="380.4" cy="749.5" r="4.27" fill="#fff" stroke="#000" stroke-width="1.33"/>
<path d="M1053.4,642.2 C1057.1,642.2 1059.3,647.4 1060.5,650.9 C1063.0,658.0 1055.7,665.2 1051.7,671.6 C1044.6,682.9 1033.8,692.1 1022.0,698.3 C1012.9,703.1 1002.7,706.2 992.4,707.2 C982.5,708.1 972.5,706.0 962.7,704.3 C947.4,701.6 933.3,694.1 918.2,690.9 C903.6,687.8 888.6,686.6 873.7,685.0 C844.2,681.9 814.4,681.9 784.8,680.6 C755.1,679.3 725.5,678.1 695.8,677.0 C666.2,675.9 636.5,675.1 606.9,673.8 C577.2,672.5 547.5,671.3 517.9,669.2 C488.2,667.1 458.6,663.8 429.0,661.2 C399.3,658.6 369.6,656.6 340.0,653.8 C307.0,650.7 274.1,647.4 241.2,643.3 C214.3,640.0 187.5,636.6 160.8,632.1 C144.7,629.4 128.5,626.5 112.5,623.2 C96.4,619.8 80.1,616.8 64.3,612.0 C53.4,608.7 42.1,606.2 32.2,600.7 C26.5,597.5 20.5,594.3 16.1,589.5 C12.7,585.7 9.7,581.4 8.0,576.6 C6.5,572.2 6.8,567.3 6.2,562.7" fill="none" stroke="#000" stroke-width="1.33"/><path d="M11.2,555.7 L21.2,549.8 L14.2,551.4 L17.3,547.0 L14.2,551.4 L13.4,544.2 L11.2,555.7Z" fill="#000" stroke="#000" stroke-width="1.33" stroke-linejoin="miter" stroke-miterlimit="10"/><circle cx="8.7" cy="559.2" r="4.27" fill="#fff" stroke="#000" stroke-width="1.33"/>
<path d="M1053.4,642.2 C1057.2,642.2 1059.5,647.3 1060.8,650.9 C1063.4,658.0 1056.1,665.4 1052.2,671.8 C1045.2,683.2 1034.3,692.5 1022.5,698.8 C1013.2,703.7 1002.8,706.8 992.4,707.8 C982.5,708.7 972.5,706.6 962.7,704.9 C947.4,702.2 933.3,694.8 918.2,691.5 C903.6,688.4 888.6,687.1 873.7,685.5 C844.2,682.4 814.4,682.4 784.8,681.1 C755.1,679.8 725.5,678.6 695.8,677.5 C666.2,676.4 636.5,675.6 606.9,674.3 C577.2,673.0 547.5,671.8 517.9,669.7 C488.2,667.6 458.6,664.3 429.0,661.7 C399.3,659.1 369.6,657.1 340.0,654.3 C307.0,651.2 274.1,647.9 241.2,643.8 C214.3,640.5 187.5,637.1 160.8,632.6 C144.7,629.9 128.5,627.0 112.5,623.7 C96.4,620.3 80.1,617.3 64.3,612.5 C53.4,609.2 42.0,606.7 32.0,601.1 C26.3,597.9 20.2,594.7 15.8,589.8 C12.4,586.0 9.4,581.6 7.8,576.8 C6.3,572.3 6.7,567.4 6.2,562.7" fill="none" stroke="#000" stroke-width="1.33"/><path d="M11.1,555.7 L21.2,549.8 L14.2,551.4 L17.3,547.0 L14.2,551.4 L13.4,544.2 L11.1,555.7Z" fill="#000" stroke="#000" stroke-width="1.33" stroke-linejoin="miter" stroke-miterlimit="10"/><circle cx="8.7" cy="559.2" r="4.27" fill="#fff" stroke="#000" stroke-width="1.33"/>
<path d="M833.6,480.1 C836.6,480.1 840.0,480.6 842.1,482.6 C844.2,484.6 844.7,487.9 845.1,490.7 C845.8,495.4 843.9,500.3 842.1,504.7 C839.9,510.0 836.4,515.0 832.1,518.8 C828.1,522.3 823.0,524.5 818.0,526.5 C807.6,530.7 795.9,530.4 784.8,531.4 C769.9,532.7 754.9,531.3 740.0,531.6 C725.3,531.9 710.5,532.8 695.8,533.2 C676.0,533.7 656.2,532.7 636.5,533.8 C616.7,534.9 596.9,537.0 577.2,539.7 C557.3,542.4 537.5,545.9 517.9,550.1 C498.0,554.3 478.4,559.9 458.6,564.9 C439.1,569.8 419.8,576.0 400.0,579.8 C374.1,584.8 347.6,584.9 321.5,588.7 C305.4,591.0 289.2,593.4 273.3,596.7 C257.1,600.1 241.1,604.4 225.1,608.8 C208.9,613.2 193.1,619.0 176.8,623.2 C166.2,625.9 155.5,628.7 144.7,630.5 C134.1,632.2 123.3,633.9 112.5,633.7 C104.4,633.6 96.3,632.8 88.4,631.3 C80.2,629.7 72.0,627.4 64.3,624.1 C55.8,620.5 47.7,615.9 40.2,610.4 C33.2,605.2 26.7,599.2 20.9,592.7 C16.3,587.5 10.9,582.5 8.5,576.0 C7.0,571.8 7.0,567.1 6.3,562.7" fill="none" stroke="#000" stroke-width="1.33"/><path d="M11.2,555.7 L21.2,549.8 L14.2,551.4 L17.3,547.0 L14.2,551.4 L13.4,544.2 L11.2,555.7Z" fill="#000" stroke="#000" stroke-width="1.33" stroke-linejoin="miter" stroke-miterlimit="10"/><circle cx="8.7" cy="559.2" r="4.27" fill="#fff" stroke="#000" stroke-width="1.33"/>
</g>
<text x="15.5" y="979.7" textLength="190" lengthAdjust="spacing">Generated by SchemaSpy</text>
</svg>
</body></html>
